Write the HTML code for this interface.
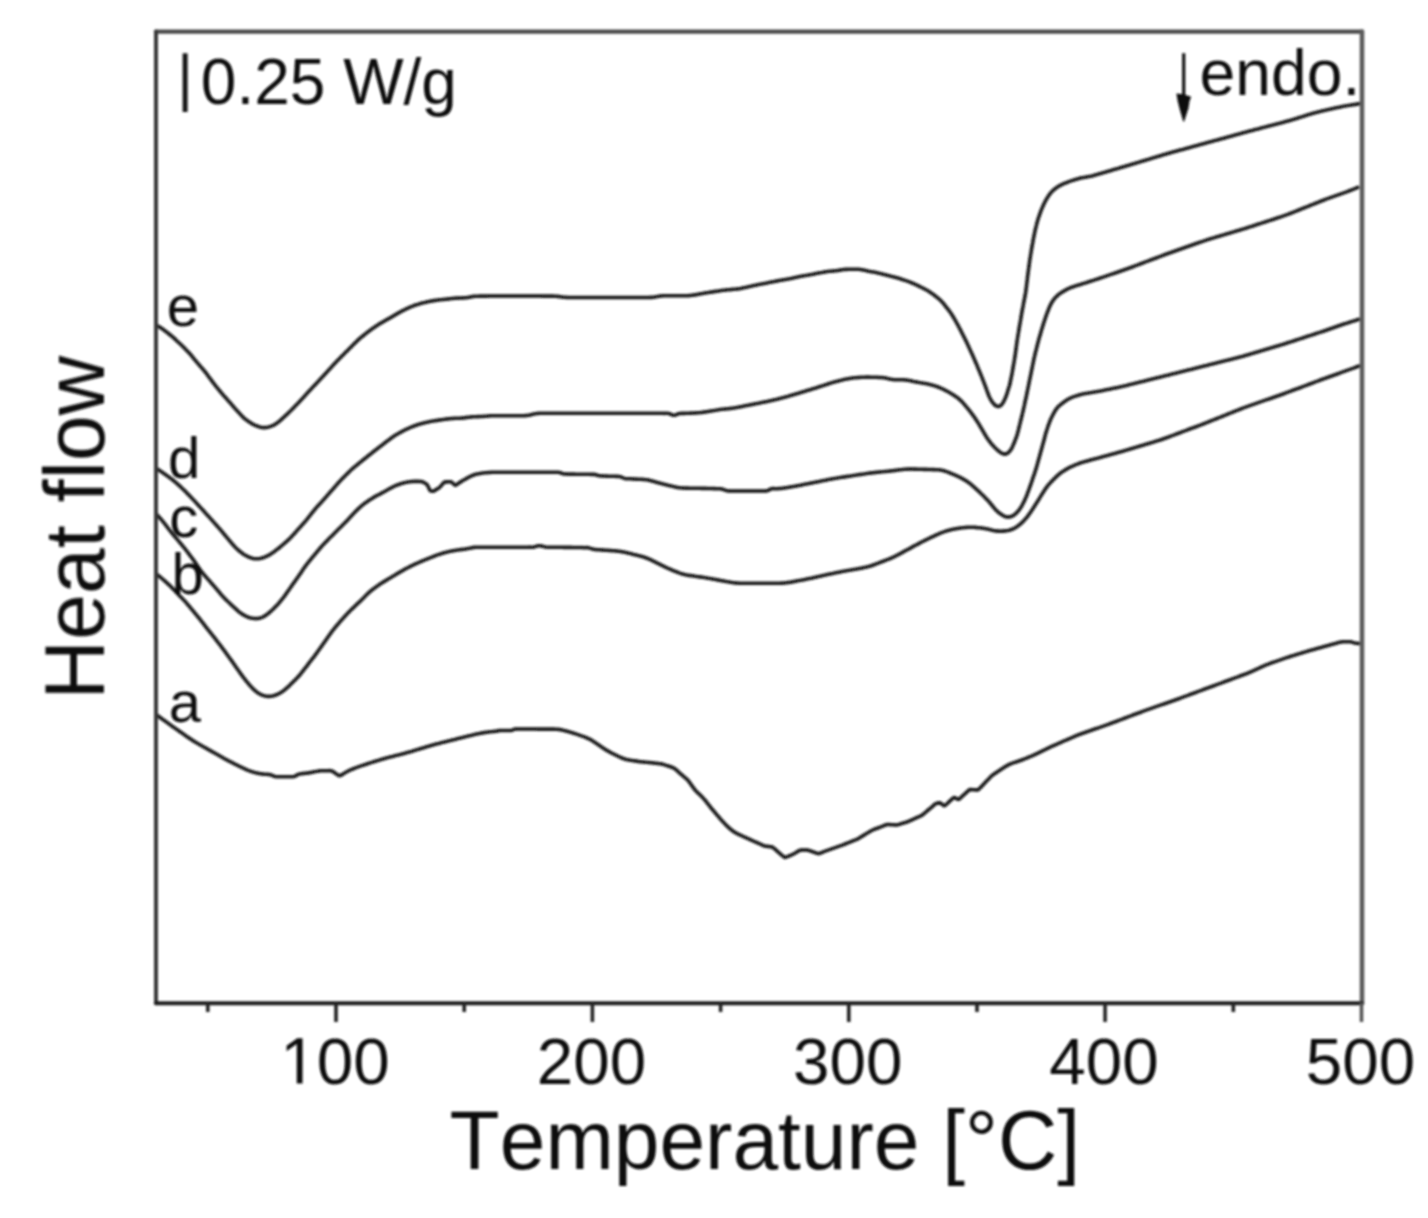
<!DOCTYPE html>
<html><head><meta charset="utf-8"><title>Heat flow chart</title>
<style>
html,body{margin:0;padding:0;background:#fff;}
body{width:1428px;height:1218px;overflow:hidden;font-family:"Liberation Sans",sans-serif;}
svg{display:block;}
text{font-kerning:none;font-variant-ligatures:none;font-feature-settings:"kern" 0,"liga" 0;}
</style></head><body>
<svg width="1428" height="1218" viewBox="0 0 1428 1218"><rect x="0" y="0" width="1428" height="1218" fill="#ffffff"/>
<defs><filter id="bl" filterUnits="userSpaceOnUse" x="0" y="0" width="1428" height="1218"><feGaussianBlur stdDeviation="0.8"/></filter><clipPath id="plot"><rect x="156" y="31" width="1206" height="972"/></clipPath></defs>
<g filter="url(#bl)">
<path transform="translate(0,0.6)" d="M156.9,324.8L158.2,325.6L159.5,326.4L160.7,327.2L161.9,328.0L163.2,328.9L164.4,329.8L165.6,330.7L166.8,331.6L168.0,332.5L169.1,333.4L170.3,334.4L171.4,335.3L172.6,336.3L173.7,337.3L174.8,338.3L175.9,339.3L177.0,340.4L178.1,341.4L179.2,342.4L180.3,343.4L181.4,344.5L182.4,345.5L183.5,346.6L184.6,347.6L185.6,348.7L186.7,349.8L187.7,350.8L188.8,351.9L189.8,353.1L190.7,354.2L191.7,355.3L192.7,356.5L193.6,357.7L194.5,358.8L195.5,360.0L196.4,361.1L197.4,362.3L198.4,363.4L199.4,364.6L200.4,365.7L201.3,366.8L202.3,367.9L203.3,369.1L204.3,370.2L205.2,371.4L206.2,372.6L207.1,373.8L207.9,375.0L208.8,376.2L209.7,377.4L210.6,378.6L211.5,379.8L212.4,381.0L213.3,382.2L214.2,383.4L215.1,384.6L216.0,385.8L217.0,386.9L217.9,388.1L218.9,389.3L219.8,390.4L220.8,391.6L221.8,392.7L222.7,393.8L223.7,395.0L224.7,396.1L225.7,397.2L226.7,398.3L227.7,399.5L228.7,400.6L229.7,401.7L230.7,402.8L231.7,404.0L232.6,405.1L233.6,406.2L234.6,407.4L235.6,408.5L236.6,409.6L237.6,410.7L238.6,411.8L239.6,412.9L240.6,414.0L241.7,415.1L242.7,416.2L243.8,417.2L245.0,418.2L246.1,419.1L247.3,420.0L248.5,420.8L249.8,421.7L251.0,422.5L252.3,423.3L253.6,424.0L254.9,424.6L256.3,425.2L257.7,425.7L259.1,426.2L260.5,426.6L262.0,426.9L263.4,427.0L264.8,427.0L266.3,426.9L267.7,426.6L269.1,426.3L270.5,425.8L271.9,425.3L273.3,424.7L274.6,424.0L275.9,423.2L277.1,422.4L278.3,421.5L279.4,420.5L280.6,419.6L281.7,418.6L282.8,417.6L283.9,416.6L285.0,415.5L286.1,414.5L287.2,413.5L288.3,412.5L289.3,411.4L290.4,410.4L291.5,409.3L292.5,408.2L293.6,407.2L294.6,406.1L295.7,405.0L296.7,403.9L297.8,402.9L298.8,401.8L299.8,400.7L300.8,399.6L301.9,398.5L302.9,397.4L303.9,396.3L304.9,395.1L305.9,394.0L306.9,392.9L307.9,391.8L308.9,390.7L310.0,389.6L311.0,388.5L312.0,387.4L313.0,386.3L314.1,385.2L315.1,384.1L316.1,383.1L317.1,382.0L318.2,380.9L319.2,379.8L320.2,378.7L321.2,377.6L322.3,376.5L323.3,375.4L324.3,374.3L325.3,373.2L326.3,372.1L327.3,371.0L328.3,369.8L329.4,368.7L330.4,367.6L331.4,366.5L332.4,365.4L333.4,364.3L334.4,363.2L335.5,362.1L336.5,361.0L337.5,359.9L338.6,358.9L339.6,357.8L340.7,356.7L341.7,355.7L342.8,354.6L343.8,353.6L344.9,352.5L346.0,351.4L347.0,350.4L348.1,349.3L349.2,348.2L350.2,347.2L351.3,346.1L352.3,345.1L353.4,344.0L354.5,342.9L355.5,341.9L356.6,340.8L357.7,339.8L358.8,338.8L359.9,337.8L361.0,336.8L362.2,335.9L363.4,334.9L364.5,334.0L365.7,333.1L366.9,332.1L368.1,331.2L369.3,330.3L370.5,329.4L371.7,328.5L372.9,327.7L374.2,326.8L375.4,326.0L376.6,325.2L377.9,324.4L379.2,323.5L380.4,322.7L381.7,322.0L383.0,321.2L384.3,320.5L385.6,319.7L386.9,319.0L388.2,318.3L389.6,317.6L390.9,316.8L392.2,316.1L393.4,315.3L394.7,314.5L396.0,313.8L397.3,313.0L398.6,312.3L399.9,311.6L401.3,310.8L402.6,310.1L403.9,309.5L405.3,308.8L406.6,308.1L408.0,307.5L409.3,306.9L410.7,306.3L412.1,305.8L413.5,305.2L414.9,304.7L416.3,304.2L417.8,303.8L419.2,303.3L420.6,302.9L422.1,302.5L423.5,302.1L425.0,301.8L426.4,301.4L427.9,301.1L429.4,300.8L430.8,300.5L432.3,300.3L433.8,300.0L435.3,299.8L436.8,299.6L438.2,299.4L439.7,299.2L441.2,299.1L442.7,298.9L444.2,298.8L445.7,298.7L447.2,298.5L448.7,298.3L450.1,298.1L451.6,297.9L453.1,297.8L454.6,297.6L456.1,297.5L457.6,297.5L459.1,297.4L460.6,297.4L462.1,297.4L463.6,297.3L465.0,297.2L466.5,297.1L467.9,296.8L469.4,296.6L470.8,296.3L472.2,296.0L473.7,295.8L475.2,295.7L476.6,295.6L478.1,295.6L479.6,295.5L481.1,295.5L482.6,295.5L484.1,295.5L485.6,295.5L487.1,295.5L488.6,295.4L490.1,295.4L491.6,295.4L493.1,295.4L494.6,295.4L496.1,295.4L497.6,295.4L499.1,295.4L500.6,295.4L502.1,295.4L503.6,295.4L505.1,295.4L506.6,295.4L508.1,295.4L509.6,295.4L511.1,295.4L512.6,295.4L514.1,295.4L515.6,295.4L517.1,295.4L518.6,295.4L520.1,295.4L521.6,295.4L523.1,295.4L524.6,295.4L526.1,295.4L527.6,295.4L529.1,295.4L530.6,295.4L532.1,295.4L533.6,295.4L535.1,295.4L536.6,295.4L538.1,295.4L539.6,295.4L541.1,295.4L542.6,295.5L544.1,295.5L545.6,295.5L547.1,295.5L548.6,295.5L550.1,295.5L551.6,295.5L553.1,295.5L554.6,295.6L556.1,295.6L557.6,295.8L559.0,296.0L560.5,296.2L561.9,296.4L563.4,296.6L564.9,296.7L566.4,296.8L567.9,296.9L569.4,296.9L570.9,296.9L572.4,296.9L573.9,296.9L575.4,296.9L576.9,296.9L578.4,296.9L579.9,296.9L581.4,296.9L582.9,296.9L584.4,296.9L585.9,296.9L587.4,296.9L588.9,296.9L590.4,296.9L591.9,296.9L593.4,296.9L594.9,296.9L596.4,296.9L597.9,296.9L599.4,296.9L600.9,296.9L602.4,296.9L603.9,296.9L605.4,296.9L606.9,296.9L608.4,296.9L609.9,296.9L611.4,296.9L612.9,296.9L614.4,296.9L615.9,296.9L617.4,296.9L618.9,296.9L620.4,296.9L621.9,296.9L623.4,296.9L624.9,296.9L626.4,296.9L627.9,296.9L629.4,296.9L630.9,296.9L632.4,296.9L633.9,296.9L635.4,296.9L636.9,296.9L638.4,296.9L639.9,296.9L641.4,296.9L642.9,296.9L644.4,296.9L645.9,296.9L647.4,296.9L648.8,296.9L650.3,296.8L651.8,296.8L653.3,296.6L654.7,296.4L656.2,296.2L657.6,295.9L659.1,295.6L660.5,295.4L662.0,295.3L663.5,295.2L665.0,295.2L666.5,295.2L668.0,295.2L669.5,295.2L671.0,295.2L672.5,295.2L674.0,295.2L675.5,295.2L677.0,295.2L678.5,295.2L680.0,295.2L681.5,295.2L683.0,295.2L684.5,295.2L686.0,295.2L687.5,295.1L688.9,295.0L690.4,294.9L691.9,294.7L693.4,294.5L694.9,294.3L696.4,294.0L697.8,293.8L699.3,293.5L700.8,293.2L702.3,293.0L703.7,292.7L705.2,292.4L706.7,292.2L708.2,292.0L709.7,291.7L711.1,291.5L712.6,291.3L714.1,291.0L715.6,290.8L717.1,290.6L718.6,290.4L720.0,290.2L721.5,289.9L723.0,289.7L724.5,289.6L726.0,289.4L727.5,289.2L729.0,289.1L730.5,289.0L732.0,288.8L733.5,288.7L734.9,288.6L736.4,288.4L737.9,288.3L739.4,288.1L740.9,287.8L742.4,287.5L743.8,287.2L745.3,286.9L746.7,286.6L748.2,286.2L749.7,285.9L751.1,285.6L752.6,285.2L754.1,284.9L755.5,284.6L757.0,284.3L758.5,284.0L759.9,283.7L761.4,283.5L762.9,283.2L764.4,282.9L765.8,282.6L767.3,282.3L768.8,282.0L770.2,281.7L771.7,281.4L773.2,281.1L774.7,280.8L776.1,280.5L777.6,280.3L779.1,280.0L780.5,279.7L782.0,279.5L783.5,279.2L785.0,279.0L786.5,278.7L787.9,278.5L789.4,278.2L790.9,277.9L792.3,277.6L793.8,277.2L795.3,276.9L796.7,276.6L798.2,276.2L799.7,276.0L801.1,275.7L802.6,275.4L804.1,275.2L805.6,274.9L807.1,274.7L808.5,274.4L810.0,274.2L811.5,273.9L812.9,273.6L814.4,273.3L815.9,273.0L817.4,272.7L818.8,272.4L820.3,272.1L821.8,271.9L823.2,271.6L824.7,271.3L826.2,271.1L827.7,270.9L829.2,270.7L830.7,270.6L832.2,270.5L833.6,270.4L835.1,270.2L836.6,270.1L838.0,269.8L839.5,269.6L840.9,269.3L842.4,269.1L843.8,268.9L845.3,268.8L846.8,268.8L848.3,268.7L849.8,268.7L851.3,268.7L852.8,268.7L854.3,268.7L855.8,268.7L857.3,268.7L858.8,268.7L860.2,268.9L861.7,269.1L863.1,269.3L864.6,269.7L866.0,270.0L867.4,270.4L868.9,270.7L870.3,271.0L871.8,271.2L873.3,271.4L874.7,271.7L876.2,272.0L877.7,272.3L879.1,272.7L880.6,273.0L882.0,273.4L883.5,273.7L884.9,274.1L886.4,274.5L887.9,274.8L889.3,275.2L890.8,275.6L892.2,275.9L893.7,276.3L895.1,276.7L896.6,277.1L898.0,277.5L899.4,277.9L900.9,278.4L902.3,278.9L903.7,279.3L905.1,279.8L906.5,280.3L908.0,280.8L909.4,281.3L910.8,281.9L912.2,282.4L913.5,283.0L914.9,283.6L916.3,284.2L917.6,284.9L919.0,285.5L920.3,286.2L921.7,286.9L923.0,287.6L924.3,288.2L925.6,288.9L927.0,289.7L928.2,290.4L929.5,291.2L930.7,292.1L932.0,292.9L933.2,293.8L934.4,294.7L935.6,295.6L936.8,296.5L937.9,297.5L939.1,298.4L940.2,299.4L941.2,300.5L942.2,301.5L943.2,302.7L944.2,303.8L945.1,305.0L946.0,306.2L947.0,307.4L947.9,308.5L948.8,309.7L949.7,310.9L950.6,312.2L951.4,313.4L952.2,314.6L953.0,315.9L953.8,317.2L954.5,318.5L955.3,319.8L956.0,321.1L956.7,322.4L957.4,323.7L958.2,325.0L958.9,326.4L959.6,327.7L960.3,329.0L961.0,330.4L961.6,331.7L962.3,333.0L963.0,334.4L963.7,335.7L964.3,337.1L965.0,338.4L965.7,339.7L966.3,341.1L967.0,342.4L967.6,343.8L968.2,345.2L968.9,346.5L969.5,347.9L970.1,349.2L970.7,350.6L971.4,352.0L972.0,353.3L972.6,354.7L973.2,356.1L973.8,357.5L974.4,358.8L975.0,360.2L975.6,361.6L976.2,363.0L976.8,364.3L977.4,365.7L977.9,367.1L978.5,368.5L979.1,369.9L979.7,371.3L980.2,372.6L980.8,374.0L981.4,375.4L981.9,376.8L982.5,378.2L983.0,379.6L983.6,381.0L984.1,382.4L984.6,383.8L985.2,385.2L985.7,386.6L986.2,388.0L986.7,389.4L987.2,390.8L987.8,392.3L988.3,393.7L988.8,395.1L989.4,396.4L990.1,397.8L990.8,399.1L991.6,400.4L992.4,401.6L993.3,402.8L994.3,403.9L995.4,404.8L996.6,405.5L997.8,405.9L999.0,405.8L1000.3,405.2L1001.4,404.3L1002.3,403.2L1003.1,402.0L1003.8,400.7L1004.4,399.4L1005.1,398.0L1005.7,396.6L1006.2,395.2L1006.7,393.8L1007.2,392.4L1007.6,391.0L1008.0,389.5L1008.5,388.1L1008.9,386.7L1009.4,385.2L1009.8,383.8L1010.1,382.3L1010.4,380.8L1010.7,379.4L1011.0,377.9L1011.3,376.4L1011.6,375.0L1011.9,373.5L1012.2,372.0L1012.4,370.6L1012.7,369.1L1013.0,367.6L1013.2,366.1L1013.5,364.6L1013.7,363.2L1014.0,361.7L1014.2,360.2L1014.5,358.7L1014.7,357.2L1015.0,355.8L1015.2,354.3L1015.4,352.8L1015.6,351.3L1015.8,349.8L1016.0,348.3L1016.2,346.9L1016.4,345.4L1016.6,343.9L1016.8,342.4L1017.0,340.9L1017.2,339.4L1017.5,337.9L1017.7,336.5L1017.9,335.0L1018.2,333.5L1018.4,332.0L1018.7,330.5L1018.9,329.1L1019.2,327.6L1019.4,326.1L1019.7,324.6L1019.9,323.1L1020.2,321.7L1020.4,320.2L1020.7,318.7L1020.9,317.2L1021.2,315.8L1021.4,314.3L1021.7,312.8L1021.9,311.3L1022.2,309.8L1022.5,308.4L1022.8,306.9L1023.1,305.4L1023.3,304.0L1023.6,302.5L1023.9,301.0L1024.2,299.5L1024.5,298.1L1024.8,296.6L1025.1,295.1L1025.3,293.6L1025.6,292.2L1025.8,290.7L1026.0,289.2L1026.2,287.7L1026.4,286.2L1026.6,284.7L1026.7,283.2L1026.9,281.8L1027.1,280.3L1027.3,278.8L1027.4,277.3L1027.6,275.8L1027.8,274.3L1028.0,272.8L1028.2,271.3L1028.4,269.8L1028.6,268.4L1028.8,266.9L1029.0,265.4L1029.2,263.9L1029.4,262.4L1029.6,260.9L1029.8,259.4L1030.0,258.0L1030.3,256.5L1030.5,255.0L1030.7,253.5L1031.0,252.0L1031.2,250.6L1031.5,249.1L1031.7,247.6L1032.0,246.1L1032.2,244.6L1032.5,243.2L1032.8,241.7L1033.0,240.2L1033.3,238.7L1033.6,237.3L1033.9,235.8L1034.2,234.3L1034.5,232.9L1034.8,231.4L1035.1,229.9L1035.5,228.5L1035.8,227.0L1036.2,225.5L1036.5,224.1L1036.9,222.6L1037.3,221.2L1037.7,219.8L1038.1,218.3L1038.6,216.9L1039.1,215.5L1039.6,214.1L1040.1,212.6L1040.6,211.2L1041.1,209.8L1041.7,208.5L1042.3,207.1L1042.9,205.7L1043.5,204.3L1044.1,203.0L1044.8,201.6L1045.5,200.3L1046.2,199.0L1047.0,197.7L1047.8,196.4L1048.6,195.2L1049.4,194.0L1050.3,192.8L1051.3,191.6L1052.3,190.6L1053.4,189.6L1054.5,188.6L1055.7,187.7L1056.9,186.8L1058.1,186.0L1059.4,185.2L1060.7,184.5L1062.0,183.9L1063.4,183.2L1064.8,182.7L1066.2,182.1L1067.6,181.6L1069.0,181.0L1070.4,180.5L1071.8,180.0L1073.2,179.6L1074.7,179.1L1076.1,178.7L1077.5,178.3L1079.0,177.9L1080.4,177.5L1081.9,177.2L1083.4,177.0L1084.8,176.7L1086.3,176.5L1087.8,176.2L1089.3,175.9L1090.7,175.6L1092.2,175.3L1093.6,174.9L1095.1,174.5L1096.5,174.1L1097.9,173.7L1099.4,173.2L1100.8,172.8L1102.3,172.4L1103.7,172.0L1105.1,171.6L1106.6,171.1L1108.0,170.7L1109.5,170.3L1110.9,169.9L1112.3,169.4L1113.8,169.0L1115.2,168.6L1116.7,168.2L1118.1,167.8L1119.5,167.3L1121.0,166.9L1122.4,166.5L1123.9,166.1L1125.3,165.6L1126.7,165.2L1128.2,164.8L1129.6,164.4L1131.0,163.9L1132.5,163.5L1133.9,163.1L1135.4,162.6L1136.8,162.2L1138.2,161.8L1139.7,161.3L1141.1,160.9L1142.5,160.5L1144.0,160.1L1145.4,159.6L1146.8,159.2L1148.3,158.8L1149.7,158.3L1151.2,157.9L1152.6,157.5L1154.0,157.0L1155.5,156.6L1156.9,156.2L1158.3,155.7L1159.8,155.3L1161.2,154.9L1162.6,154.4L1164.1,154.0L1165.5,153.6L1167.0,153.2L1168.4,152.7L1169.8,152.3L1171.3,151.9L1172.7,151.5L1174.2,151.1L1175.6,150.7L1177.1,150.3L1178.5,149.9L1180.0,149.5L1181.4,149.1L1182.9,148.8L1184.3,148.4L1185.8,148.0L1187.2,147.6L1188.7,147.2L1190.1,146.8L1191.5,146.4L1193.0,146.0L1194.4,145.6L1195.9,145.2L1197.3,144.8L1198.8,144.4L1200.2,144.0L1201.7,143.6L1203.1,143.2L1204.6,142.8L1206.0,142.4L1207.5,142.0L1208.9,141.6L1210.4,141.2L1211.8,140.8L1213.3,140.4L1214.7,140.0L1216.1,139.7L1217.6,139.3L1219.0,138.9L1220.5,138.5L1221.9,138.1L1223.4,137.7L1224.8,137.3L1226.3,136.9L1227.7,136.5L1229.2,136.1L1230.6,135.7L1232.1,135.3L1233.5,134.9L1234.9,134.5L1236.4,134.1L1237.8,133.7L1239.3,133.3L1240.7,132.9L1242.2,132.5L1243.6,132.1L1245.1,131.7L1246.5,131.3L1248.0,130.9L1249.4,130.5L1250.9,130.2L1252.3,129.8L1253.8,129.4L1255.2,129.0L1256.7,128.6L1258.1,128.3L1259.6,127.9L1261.0,127.5L1262.5,127.1L1263.9,126.7L1265.4,126.4L1266.8,126.0L1268.3,125.6L1269.7,125.2L1271.2,124.8L1272.6,124.5L1274.1,124.1L1275.5,123.7L1277.0,123.3L1278.4,122.9L1279.9,122.6L1281.3,122.2L1282.8,121.8L1284.2,121.4L1285.7,121.0L1287.1,120.6L1288.6,120.2L1290.0,119.8L1291.5,119.4L1292.9,119.0L1294.3,118.5L1295.8,118.1L1297.2,117.6L1298.6,117.2L1300.1,116.7L1301.5,116.3L1302.9,115.8L1304.4,115.4L1305.8,114.9L1307.2,114.5L1308.6,114.0L1310.1,113.6L1311.5,113.2L1313.0,112.7L1314.4,112.3L1315.8,112.0L1317.3,111.6L1318.8,111.2L1320.2,110.9L1321.7,110.5L1323.1,110.1L1324.6,109.8L1326.0,109.5L1327.5,109.1L1329.0,108.8L1330.4,108.5L1331.9,108.2L1333.4,107.8L1334.8,107.5L1336.3,107.2L1337.8,106.9L1339.2,106.6L1340.7,106.3L1342.2,106.0L1343.6,105.7L1345.1,105.4L1346.6,105.2L1348.1,104.9L1349.6,104.7L1351.0,104.5L1352.5,104.2L1354.0,104.0L1355.5,103.8L1357.0,103.5L1358.4,103.3L1359.9,103.0L1360.9,102.8" fill="none" stroke="#141414" stroke-width="3.6" stroke-linejoin="round" stroke-linecap="butt" clip-path="url(#plot)"/>
<path transform="translate(0,0.6)" d="M156.3,467.7L157.5,468.5L158.8,469.4L160.0,470.2L161.3,471.1L162.5,471.9L163.7,472.8L165.0,473.6L166.2,474.5L167.4,475.4L168.6,476.2L169.8,477.1L171.1,478.0L172.2,478.9L173.4,479.9L174.5,480.8L175.7,481.8L176.8,482.8L177.9,483.8L179.0,484.8L180.1,485.8L181.2,486.8L182.3,487.9L183.4,488.9L184.5,490.0L185.5,491.0L186.6,492.1L187.6,493.2L188.7,494.2L189.7,495.3L190.8,496.4L191.8,497.5L192.8,498.6L193.9,499.7L194.9,500.8L195.9,501.9L196.9,503.0L197.9,504.1L198.9,505.2L199.9,506.3L201.0,507.4L202.0,508.5L203.0,509.6L204.0,510.7L205.0,511.9L206.0,513.0L207.0,514.1L208.0,515.2L209.0,516.3L210.0,517.4L211.0,518.5L212.0,519.6L213.0,520.8L214.0,521.9L215.0,523.0L216.0,524.1L217.0,525.2L218.0,526.4L219.0,527.5L220.0,528.6L220.9,529.8L221.9,530.9L222.9,532.1L223.8,533.2L224.8,534.4L225.7,535.5L226.7,536.7L227.7,537.8L228.6,539.0L229.6,540.1L230.5,541.3L231.5,542.4L232.5,543.6L233.5,544.7L234.5,545.8L235.5,546.9L236.6,547.9L237.7,549.0L238.8,549.9L240.0,550.9L241.1,551.8L242.3,552.7L243.5,553.6L244.8,554.4L246.1,555.1L247.4,555.8L248.7,556.4L250.1,557.0L251.5,557.4L253.0,557.8L254.4,558.1L255.8,558.2L257.3,558.2L258.8,558.1L260.2,557.9L261.6,557.5L263.1,557.1L264.4,556.6L265.8,556.0L267.2,555.4L268.5,554.7L269.8,554.0L271.1,553.2L272.3,552.4L273.6,551.5L274.8,550.6L275.9,549.7L277.1,548.8L278.3,547.9L279.5,546.9L280.6,546.0L281.8,545.0L282.9,544.1L284.1,543.1L285.2,542.1L286.4,541.1L287.5,540.1L288.6,539.1L289.6,538.1L290.7,537.0L291.7,535.9L292.7,534.8L293.7,533.7L294.7,532.6L295.7,531.5L296.7,530.3L297.7,529.2L298.7,528.1L299.7,527.0L300.7,525.9L301.7,524.7L302.7,523.6L303.7,522.5L304.7,521.4L305.7,520.3L306.7,519.1L307.6,517.9L308.5,516.8L309.5,515.6L310.4,514.4L311.3,513.2L312.2,512.0L313.2,510.9L314.1,509.7L315.1,508.6L316.0,507.4L317.0,506.3L318.0,505.2L319.0,504.1L320.1,503.0L321.1,501.9L322.1,500.8L323.1,499.6L324.1,498.5L325.1,497.4L326.1,496.3L327.1,495.1L328.0,494.0L329.0,492.9L330.0,491.7L331.0,490.6L332.0,489.5L333.0,488.4L334.0,487.2L335.0,486.1L335.9,485.0L336.9,483.9L337.9,482.7L338.9,481.6L340.0,480.5L341.0,479.4L342.0,478.3L343.1,477.3L344.1,476.2L345.2,475.1L346.2,474.1L347.3,473.0L348.4,472.0L349.4,470.9L350.5,469.9L351.6,468.9L352.7,467.9L353.9,466.9L355.0,465.9L356.2,465.0L357.3,464.0L358.5,463.1L359.7,462.1L360.8,461.2L362.0,460.2L363.2,459.3L364.3,458.4L365.5,457.4L366.7,456.5L367.8,455.5L369.0,454.6L370.2,453.7L371.4,452.7L372.5,451.8L373.7,450.9L374.9,449.9L376.1,449.0L377.3,448.1L378.5,447.2L379.6,446.3L380.8,445.4L382.0,444.5L383.2,443.6L384.4,442.6L385.6,441.7L386.8,440.8L388.0,439.9L389.2,439.0L390.4,438.1L391.6,437.2L392.8,436.4L394.1,435.5L395.3,434.7L396.6,433.9L397.9,433.2L399.2,432.4L400.5,431.7L401.8,431.0L403.1,430.3L404.5,429.6L405.8,428.9L407.2,428.3L408.5,427.7L409.9,427.1L411.3,426.5L412.7,425.9L414.1,425.4L415.5,424.9L416.9,424.4L418.3,423.9L419.8,423.5L421.2,423.1L422.6,422.7L424.1,422.3L425.6,421.9L427.0,421.6L428.5,421.3L430.0,421.0L431.4,420.7L432.9,420.5L434.4,420.2L435.9,420.0L437.3,419.8L438.8,419.5L440.3,419.3L441.8,419.1L443.3,418.9L444.8,418.7L446.3,418.5L447.7,418.3L449.2,418.1L450.7,418.0L452.2,417.9L453.7,417.8L455.2,417.7L456.7,417.7L458.2,417.6L459.7,417.6L461.2,417.5L462.6,417.4L464.1,417.3L465.6,417.0L467.1,416.8L468.5,416.6L470.0,416.5L471.5,416.3L473.0,416.2L474.5,416.2L476.0,416.1L477.5,416.0L479.0,416.0L480.5,415.9L482.0,415.9L483.5,415.8L485.0,415.7L486.5,415.6L488.0,415.4L489.5,415.3L490.9,415.2L492.4,415.2L493.9,415.1L495.4,415.1L496.9,415.1L498.4,415.1L499.9,415.1L501.4,415.1L502.9,415.1L504.4,415.1L505.9,415.1L507.4,415.1L508.9,415.1L510.4,415.1L511.9,415.1L513.4,415.1L514.9,415.1L516.4,415.1L517.9,415.1L519.4,415.1L520.9,415.1L522.4,415.1L523.9,415.1L525.4,415.0L526.9,414.9L528.3,414.7L529.8,414.5L531.2,414.1L532.6,413.7L534.0,413.4L535.4,413.1L536.9,412.9L538.3,412.8L539.8,412.7L541.3,412.7L542.8,412.7L544.3,412.7L545.8,412.7L547.3,412.7L548.8,412.7L550.3,412.7L551.8,412.7L553.3,412.7L554.8,412.7L556.3,412.7L557.8,412.7L559.3,412.7L560.8,412.7L562.3,412.7L563.8,412.7L565.3,412.7L566.8,412.7L568.3,412.7L569.8,412.7L571.3,412.7L572.8,412.7L574.3,412.7L575.8,412.7L577.3,412.7L578.8,412.7L580.3,412.7L581.8,412.7L583.3,412.7L584.8,412.7L586.3,412.7L587.8,412.7L589.3,412.7L590.8,412.7L592.3,412.7L593.8,412.7L595.3,412.7L596.8,412.7L598.3,412.7L599.8,412.7L601.3,412.7L602.8,412.7L604.3,412.7L605.8,412.7L607.3,412.7L608.8,412.7L610.3,412.7L611.8,412.7L613.3,412.7L614.8,412.7L616.3,412.7L617.8,412.7L619.3,412.7L620.8,412.7L622.3,412.7L623.8,412.7L625.3,412.7L626.8,412.7L628.3,412.7L629.8,412.7L631.3,412.7L632.8,412.7L634.3,412.7L635.8,412.7L637.3,412.7L638.8,412.7L640.3,412.7L641.8,412.7L643.3,412.7L644.8,412.7L646.3,412.7L647.8,412.7L649.3,412.7L650.8,412.7L652.3,412.7L653.8,412.7L655.3,412.7L656.8,412.7L658.3,412.7L659.8,412.7L661.3,412.7L662.8,412.7L664.3,412.8L665.8,412.7L667.3,412.7L668.8,412.9L670.2,413.4L671.5,414.0L672.9,414.6L674.3,414.7L675.7,414.3L677.1,413.7L678.5,413.2L679.9,412.9L681.4,412.8L682.9,412.8L684.4,412.8L685.9,412.7L687.4,412.6L688.9,412.6L690.4,412.5L691.9,412.5L693.4,412.4L694.9,412.4L696.4,412.3L697.9,412.2L699.4,412.1L700.9,411.9L702.4,411.8L703.8,411.5L705.3,411.3L706.8,411.1L708.3,410.8L709.8,410.6L711.2,410.3L712.7,410.1L714.2,409.9L715.7,409.6L717.2,409.4L718.7,409.1L720.1,408.9L721.6,408.7L723.1,408.6L724.6,408.4L726.1,408.3L727.6,408.1L729.1,408.0L730.6,407.8L732.1,407.7L733.5,407.5L735.0,407.2L736.5,407.0L738.0,406.7L739.4,406.4L740.9,406.1L742.4,405.8L743.9,405.5L745.3,405.2L746.8,404.9L748.3,404.6L749.7,404.3L751.2,404.0L752.7,403.8L754.2,403.5L755.6,403.2L757.1,402.9L758.6,402.6L760.0,402.3L761.5,402.0L763.0,401.7L764.5,401.4L765.9,401.1L767.4,400.8L768.9,400.5L770.3,400.1L771.8,399.8L773.2,399.5L774.7,399.1L776.2,398.8L777.6,398.4L779.1,398.1L780.5,397.7L782.0,397.3L783.4,397.0L784.9,396.6L786.3,396.2L787.8,395.8L789.2,395.3L790.6,394.9L792.1,394.5L793.5,394.1L795.0,393.6L796.4,393.2L797.8,392.8L799.3,392.4L800.7,391.9L802.1,391.5L803.6,391.1L805.0,390.6L806.4,390.2L807.9,389.7L809.3,389.3L810.8,388.9L812.2,388.4L813.6,388.0L815.1,387.6L816.5,387.1L817.9,386.7L819.3,386.2L820.8,385.7L822.2,385.3L823.6,384.8L825.0,384.3L826.5,383.9L827.9,383.4L829.3,382.9L830.8,382.5L832.2,382.0L833.6,381.6L835.1,381.2L836.5,380.8L838.0,380.4L839.4,380.1L840.9,379.7L842.3,379.4L843.8,379.0L845.3,378.7L846.7,378.4L848.2,378.1L849.7,377.8L851.1,377.6L852.6,377.4L854.1,377.2L855.6,377.1L857.1,377.0L858.6,376.9L860.1,376.8L861.6,376.7L863.1,376.6L864.6,376.6L866.1,376.5L867.6,376.5L869.1,376.5L870.6,376.6L872.1,376.6L873.6,376.6L875.1,376.7L876.6,376.7L878.1,376.8L879.6,376.9L881.1,376.9L882.5,377.0L884.0,377.2L885.5,377.4L886.9,377.7L888.3,378.1L889.7,378.4L891.2,378.7L892.6,378.9L894.1,379.1L895.6,379.1L897.1,379.2L898.6,379.2L900.1,379.2L901.6,379.2L903.1,379.2L904.5,379.3L906.0,379.4L907.5,379.6L909.0,379.8L910.4,380.1L911.9,380.4L913.4,380.8L914.8,381.1L916.3,381.3L917.8,381.6L919.2,381.9L920.7,382.1L922.2,382.4L923.7,382.6L925.2,382.9L926.6,383.2L928.1,383.5L929.5,383.8L931.0,384.2L932.4,384.6L933.9,385.0L935.3,385.5L936.7,385.9L938.1,386.4L939.5,387.0L940.9,387.6L942.3,388.2L943.6,388.8L944.9,389.5L946.3,390.2L947.6,390.9L948.9,391.6L950.2,392.4L951.5,393.2L952.8,393.9L954.0,394.8L955.3,395.6L956.5,396.4L957.7,397.3L958.9,398.2L960.0,399.2L961.1,400.2L962.1,401.3L963.1,402.4L964.1,403.5L965.1,404.7L966.0,405.8L967.0,407.0L967.9,408.1L968.9,409.3L969.8,410.5L970.7,411.6L971.6,412.8L972.5,414.1L973.4,415.3L974.3,416.5L975.1,417.7L975.9,419.0L976.8,420.2L977.6,421.5L978.4,422.8L979.2,424.0L979.9,425.3L980.7,426.6L981.5,427.9L982.2,429.2L983.0,430.5L983.7,431.8L984.5,433.1L985.2,434.4L986.0,435.7L986.8,436.9L987.6,438.2L988.5,439.4L989.4,440.6L990.3,441.8L991.2,443.0L992.2,444.1L993.2,445.2L994.2,446.3L995.3,447.4L996.3,448.4L997.4,449.4L998.6,450.4L999.8,451.3L1001.0,452.1L1002.2,452.9L1003.5,453.3L1004.8,453.5L1006.2,453.3L1007.4,452.7L1008.5,451.9L1009.5,450.8L1010.5,449.7L1011.3,448.5L1012.0,447.2L1012.6,445.8L1013.2,444.4L1013.8,443.1L1014.4,441.7L1014.9,440.3L1015.5,438.9L1016.0,437.5L1016.5,436.1L1017.0,434.7L1017.4,433.2L1017.8,431.8L1018.2,430.3L1018.6,428.9L1018.9,427.4L1019.3,426.0L1019.6,424.5L1020.0,423.0L1020.3,421.6L1020.7,420.1L1021.1,418.7L1021.4,417.2L1021.8,415.8L1022.1,414.3L1022.5,412.8L1022.8,411.4L1023.2,409.9L1023.5,408.5L1023.8,407.0L1024.2,405.5L1024.5,404.1L1024.8,402.6L1025.1,401.1L1025.4,399.7L1025.8,398.2L1026.1,396.7L1026.4,395.3L1026.7,393.8L1027.0,392.3L1027.3,390.9L1027.6,389.4L1027.9,387.9L1028.2,386.5L1028.5,385.0L1028.8,383.5L1029.1,382.1L1029.4,380.6L1029.7,379.1L1030.0,377.6L1030.3,376.2L1030.6,374.7L1030.9,373.2L1031.2,371.8L1031.5,370.3L1031.8,368.8L1032.1,367.4L1032.4,365.9L1032.7,364.4L1033.0,362.9L1033.3,361.5L1033.6,360.0L1033.9,358.5L1034.2,357.1L1034.6,355.6L1034.9,354.2L1035.3,352.7L1035.6,351.2L1036.0,349.8L1036.4,348.3L1036.7,346.9L1037.1,345.4L1037.5,344.0L1037.8,342.5L1038.2,341.1L1038.6,339.6L1039.0,338.2L1039.4,336.7L1039.8,335.3L1040.3,333.8L1040.7,332.4L1041.1,331.0L1041.5,329.5L1041.9,328.1L1042.4,326.7L1042.8,325.2L1043.3,323.8L1043.7,322.4L1044.2,320.9L1044.7,319.5L1045.1,318.1L1045.6,316.7L1046.1,315.3L1046.6,313.8L1047.1,312.4L1047.7,311.0L1048.2,309.6L1048.8,308.2L1049.3,306.9L1049.9,305.5L1050.6,304.1L1051.3,302.8L1052.0,301.5L1052.8,300.3L1053.7,299.1L1054.6,297.9L1055.6,296.8L1056.6,295.7L1057.7,294.7L1058.8,293.8L1060.0,292.9L1061.2,292.1L1062.5,291.3L1063.8,290.5L1065.1,289.8L1066.4,289.0L1067.7,288.3L1069.0,287.7L1070.4,287.1L1071.8,286.6L1073.2,286.1L1074.6,285.6L1076.1,285.2L1077.5,284.7L1078.9,284.3L1080.4,283.9L1081.8,283.4L1083.2,283.0L1084.7,282.5L1086.1,282.1L1087.5,281.6L1088.9,281.1L1090.4,280.7L1091.8,280.2L1093.2,279.8L1094.7,279.3L1096.1,278.8L1097.5,278.4L1098.9,277.9L1100.4,277.4L1101.8,277.0L1103.2,276.5L1104.6,276.0L1106.0,275.5L1107.5,275.0L1108.9,274.5L1110.3,274.0L1111.7,273.5L1113.1,273.1L1114.5,272.6L1116.0,272.1L1117.4,271.6L1118.8,271.1L1120.2,270.6L1121.6,270.1L1123.1,269.6L1124.5,269.1L1125.9,268.6L1127.3,268.1L1128.7,267.6L1130.1,267.1L1131.5,266.6L1132.9,266.1L1134.3,265.6L1135.7,265.0L1137.2,264.5L1138.6,264.0L1140.0,263.4L1141.4,262.9L1142.8,262.4L1144.2,261.8L1145.6,261.3L1147.0,260.8L1148.4,260.3L1149.8,259.7L1151.2,259.2L1152.6,258.7L1154.0,258.1L1155.4,257.6L1156.8,257.1L1158.2,256.6L1159.6,256.0L1161.0,255.5L1162.4,255.0L1163.8,254.4L1165.2,253.9L1166.6,253.4L1168.0,252.9L1169.4,252.4L1170.9,251.9L1172.3,251.4L1173.7,250.9L1175.1,250.4L1176.5,249.9L1177.9,249.4L1179.3,248.9L1180.8,248.4L1182.2,247.9L1183.6,247.4L1185.0,246.9L1186.4,246.4L1187.8,245.9L1189.3,245.4L1190.7,244.9L1192.1,244.4L1193.5,243.9L1194.9,243.4L1196.3,242.9L1197.8,242.4L1199.2,241.9L1200.6,241.5L1202.0,241.0L1203.4,240.5L1204.8,240.0L1206.3,239.5L1207.7,239.0L1209.1,238.6L1210.5,238.1L1212.0,237.7L1213.4,237.3L1214.9,236.8L1216.3,236.4L1217.7,236.0L1219.2,235.6L1220.6,235.1L1222.0,234.7L1223.5,234.3L1224.9,233.8L1226.4,233.4L1227.8,233.0L1229.2,232.6L1230.7,232.1L1232.1,231.7L1233.5,231.3L1235.0,230.8L1236.4,230.4L1237.9,230.0L1239.3,229.6L1240.7,229.1L1242.2,228.7L1243.6,228.3L1245.0,227.8L1246.5,227.4L1247.9,226.9L1249.3,226.5L1250.8,226.0L1252.2,225.6L1253.6,225.1L1255.0,224.6L1256.5,224.2L1257.9,223.7L1259.3,223.2L1260.7,222.8L1262.2,222.3L1263.6,221.8L1265.0,221.4L1266.5,220.9L1267.9,220.5L1269.3,220.0L1270.7,219.5L1272.2,219.1L1273.6,218.6L1275.0,218.1L1276.4,217.7L1277.9,217.2L1279.3,216.7L1280.7,216.3L1282.1,215.8L1283.6,215.3L1285.0,214.8L1286.4,214.3L1287.8,213.8L1289.2,213.2L1290.6,212.7L1292.0,212.1L1293.4,211.6L1294.8,211.0L1296.2,210.5L1297.5,209.9L1298.9,209.4L1300.3,208.8L1301.7,208.2L1303.1,207.7L1304.5,207.1L1305.9,206.6L1307.3,206.0L1308.7,205.5L1310.1,204.9L1311.5,204.3L1312.9,203.8L1314.3,203.2L1315.6,202.7L1317.0,202.1L1318.4,201.6L1319.8,201.0L1321.2,200.4L1322.6,199.9L1324.0,199.4L1325.4,198.8L1326.8,198.3L1328.2,197.8L1329.7,197.3L1331.1,196.8L1332.5,196.3L1333.9,195.8L1335.3,195.3L1336.7,194.8L1338.2,194.3L1339.6,193.8L1341.0,193.3L1342.4,192.8L1343.8,192.3L1345.2,191.8L1346.6,191.3L1348.0,190.7L1349.4,190.2L1350.8,189.6L1352.2,189.1L1353.6,188.5L1355.0,188.0L1356.4,187.4L1357.8,186.8L1359.2,186.3" fill="none" stroke="#141414" stroke-width="3.6" stroke-linejoin="round" stroke-linecap="butt" clip-path="url(#plot)"/>
<path transform="translate(0,0.6)" d="M156.3,513.3L157.3,514.4L158.3,515.5L159.3,516.7L160.3,517.8L161.3,518.9L162.2,520.1L163.2,521.2L164.1,522.4L165.0,523.6L166.0,524.8L166.9,526.0L167.8,527.2L168.7,528.4L169.6,529.6L170.5,530.7L171.4,531.9L172.4,533.1L173.3,534.2L174.3,535.4L175.3,536.5L176.2,537.6L177.2,538.8L178.2,539.9L179.1,541.1L180.1,542.2L181.1,543.4L182.0,544.6L183.0,545.7L183.9,546.9L184.9,548.0L185.8,549.2L186.7,550.4L187.6,551.6L188.5,552.8L189.4,554.0L190.3,555.2L191.2,556.4L192.1,557.6L193.0,558.8L193.9,560.0L194.7,561.2L195.6,562.5L196.4,563.7L197.3,565.0L198.1,566.2L199.0,567.4L199.8,568.7L200.7,569.9L201.6,571.1L202.5,572.3L203.4,573.4L204.4,574.6L205.4,575.7L206.4,576.8L207.4,578.0L208.4,579.1L209.4,580.2L210.4,581.3L211.3,582.5L212.3,583.6L213.3,584.7L214.3,585.8L215.3,587.0L216.3,588.1L217.2,589.3L218.2,590.4L219.2,591.6L220.1,592.7L221.1,593.9L222.1,595.0L223.1,596.1L224.1,597.2L225.1,598.3L226.2,599.3L227.3,600.4L228.4,601.4L229.5,602.4L230.5,603.5L231.6,604.5L232.7,605.5L233.8,606.6L234.9,607.6L236.0,608.6L237.1,609.6L238.2,610.6L239.4,611.5L240.6,612.4L241.8,613.3L243.1,614.1L244.4,614.8L245.7,615.5L247.1,616.1L248.4,616.6L249.9,617.1L251.3,617.5L252.7,617.7L254.2,617.9L255.6,618.0L257.1,617.9L258.5,617.8L260.0,617.5L261.4,617.0L262.7,616.5L264.0,615.8L265.3,615.1L266.5,614.2L267.7,613.3L268.8,612.4L270.0,611.4L271.1,610.4L272.2,609.4L273.3,608.4L274.3,607.3L275.4,606.3L276.4,605.2L277.5,604.1L278.5,603.0L279.4,601.8L280.4,600.7L281.3,599.5L282.3,598.3L283.2,597.2L284.1,596.0L285.0,594.8L285.9,593.6L286.7,592.3L287.6,591.1L288.5,589.9L289.3,588.7L290.2,587.4L291.0,586.2L291.9,585.0L292.7,583.7L293.6,582.5L294.5,581.3L295.4,580.1L296.2,578.9L297.1,577.6L298.0,576.4L298.8,575.2L299.7,573.9L300.5,572.7L301.4,571.5L302.2,570.2L303.0,569.0L303.9,567.7L304.7,566.5L305.6,565.3L306.5,564.1L307.4,562.9L308.3,561.7L309.3,560.5L310.2,559.4L311.2,558.2L312.1,557.1L313.1,555.9L314.1,554.8L315.0,553.6L316.0,552.5L316.9,551.3L317.9,550.2L318.9,549.0L319.8,547.9L320.8,546.7L321.8,545.6L322.8,544.5L323.8,543.4L324.9,542.3L325.9,541.2L327.0,540.2L328.0,539.1L329.1,538.0L330.1,537.0L331.2,535.9L332.3,534.8L333.3,533.8L334.4,532.7L335.4,531.7L336.5,530.6L337.6,529.5L338.6,528.5L339.7,527.4L340.7,526.4L341.8,525.3L342.9,524.2L343.9,523.2L345.0,522.1L346.0,521.0L347.1,520.0L348.1,518.9L349.1,517.8L350.1,516.7L351.1,515.6L352.1,514.5L353.2,513.4L354.2,512.3L355.2,511.2L356.3,510.1L357.4,509.1L358.5,508.1L359.6,507.0L360.7,506.0L361.8,505.1L363.0,504.1L364.1,503.2L365.3,502.3L366.6,501.4L367.8,500.6L369.0,499.7L370.3,498.9L371.6,498.1L372.8,497.3L374.1,496.5L375.4,495.8L376.7,495.1L378.0,494.4L379.4,493.7L380.7,493.0L382.0,492.3L383.4,491.6L384.7,490.9L386.0,490.1L387.3,489.4L388.6,488.6L389.9,487.9L391.2,487.2L392.5,486.5L393.9,485.8L395.2,485.2L396.6,484.6L398.0,484.1L399.4,483.6L400.8,483.1L402.3,482.7L403.7,482.3L405.2,482.0L406.6,481.6L408.1,481.4L409.6,481.2L411.1,481.0L412.5,480.9L414.0,480.8L415.5,480.8L417.0,480.8L418.5,480.7L420.0,480.9L421.5,481.0L422.9,481.4L424.2,482.1L425.5,482.9L426.8,483.7L427.6,484.9L428.3,486.2L428.9,487.6L429.5,488.9L430.3,490.1L431.7,490.5L433.1,490.6L434.4,490.1L435.7,489.3L437.0,488.5L438.3,487.7L439.5,486.9L440.5,485.8L441.5,484.7L442.5,483.5L443.4,482.4L444.5,481.5L446.0,481.3L447.5,481.3L449.0,481.2L450.5,481.2L451.8,481.6L452.8,482.6L453.9,483.7L455.0,484.6L456.1,484.3L457.4,483.5L458.6,482.6L459.8,481.8L461.1,481.0L462.4,480.2L463.7,479.4L465.0,478.7L466.3,478.0L467.6,477.2L468.9,476.5L470.3,475.9L471.6,475.2L473.0,474.7L474.4,474.2L475.8,473.7L477.2,473.4L478.7,473.1L480.2,472.8L481.7,472.6L483.1,472.4L484.6,472.2L486.1,472.1L487.6,472.0L489.1,471.9L490.6,471.8L492.1,471.7L493.6,471.7L495.1,471.7L496.6,471.7L498.1,471.7L499.6,471.7L501.1,471.7L502.6,471.7L504.1,471.7L505.6,471.7L507.1,471.7L508.6,471.7L510.1,471.7L511.6,471.7L513.1,471.7L514.6,471.7L516.1,471.7L517.6,471.7L519.1,471.7L520.6,471.7L522.1,471.7L523.6,471.7L525.1,471.7L526.6,471.7L528.1,471.7L529.6,471.7L531.1,471.7L532.6,471.7L534.1,471.7L535.6,471.7L537.1,471.7L538.6,471.7L540.1,471.7L541.6,471.7L543.1,471.7L544.6,471.7L546.1,471.7L547.6,471.7L549.1,471.7L550.6,471.7L552.1,471.7L553.6,471.7L555.1,471.7L556.6,471.7L558.1,471.7L559.6,471.9L561.0,472.4L562.4,472.9L563.8,473.3L565.3,473.4L566.8,473.4L568.3,473.5L569.8,473.5L571.3,473.5L572.8,473.5L574.3,473.5L575.8,473.6L577.3,473.6L578.8,473.6L580.3,473.6L581.8,473.6L583.3,473.7L584.8,473.7L586.3,473.7L587.8,473.7L589.3,473.7L590.8,473.8L592.3,473.8L593.8,473.8L595.2,474.0L596.7,474.4L598.1,474.9L599.5,475.2L601.0,475.3L602.5,475.4L604.0,475.4L605.5,475.5L607.0,475.5L608.5,475.6L610.0,475.6L611.5,475.6L613.0,475.7L614.5,475.7L616.0,475.8L617.5,475.8L619.0,475.9L620.4,476.1L621.8,476.7L623.2,477.3L624.5,477.8L626.0,478.1L627.5,478.1L629.0,478.2L630.5,478.2L632.0,478.3L633.5,478.4L635.0,478.5L636.5,478.5L638.0,478.6L639.5,478.7L641.0,478.7L642.5,478.8L644.0,478.9L645.5,479.1L646.9,479.2L648.4,479.5L649.9,479.8L651.3,480.2L652.7,480.6L654.2,481.0L655.6,481.4L657.1,481.8L658.5,482.2L660.0,482.6L661.4,483.0L662.9,483.4L664.3,483.7L665.8,484.1L667.2,484.5L668.7,484.8L670.1,485.2L671.6,485.5L673.1,485.9L674.5,486.2L676.0,486.6L677.4,486.8L678.9,487.1L680.4,487.2L681.9,487.4L683.4,487.4L684.9,487.5L686.4,487.5L687.9,487.5L689.4,487.6L690.9,487.6L692.4,487.6L693.9,487.6L695.4,487.7L696.9,487.7L698.4,487.7L699.9,487.7L701.4,487.8L702.9,487.8L704.4,487.8L705.9,487.8L707.4,487.9L708.9,487.9L710.4,487.9L711.9,487.9L713.4,488.0L714.9,488.0L716.4,488.1L717.8,488.2L719.4,488.1L720.8,488.2L722.3,488.6L723.7,489.0L725.1,489.6L726.5,490.0L728.0,490.3L729.5,490.4L731.0,490.4L732.5,490.4L734.0,490.4L735.5,490.4L737.0,490.4L738.5,490.4L740.0,490.4L741.5,490.4L743.0,490.4L744.5,490.4L746.0,490.4L747.5,490.4L749.0,490.4L750.5,490.4L752.0,490.4L753.5,490.4L755.0,490.4L756.5,490.4L758.0,490.4L759.5,490.4L761.0,490.4L762.5,490.4L764.0,490.4L765.5,490.4L766.9,490.3L768.3,489.8L769.6,489.0L770.9,488.3L772.3,488.0L773.8,488.0L775.3,488.1L776.8,488.1L778.3,488.0L779.8,487.9L781.2,487.8L782.7,487.6L784.2,487.4L785.7,487.2L787.2,487.0L788.6,486.7L790.1,486.5L791.6,486.2L793.1,486.0L794.6,485.7L796.0,485.5L797.5,485.2L799.0,484.9L800.5,484.6L801.9,484.3L803.4,484.0L804.9,483.7L806.3,483.4L807.8,483.1L809.3,482.8L810.7,482.5L812.2,482.3L813.7,482.0L815.2,481.7L816.6,481.4L818.1,481.1L819.6,480.8L821.0,480.5L822.5,480.2L824.0,479.9L825.5,479.6L826.9,479.3L828.4,479.0L829.9,478.7L831.3,478.5L832.8,478.2L834.3,477.9L835.8,477.7L837.3,477.4L838.7,477.2L840.2,476.9L841.7,476.7L843.2,476.5L844.7,476.3L846.1,476.0L847.6,475.8L849.1,475.6L850.6,475.4L852.1,475.1L853.6,474.9L855.0,474.7L856.5,474.5L858.0,474.2L859.5,474.0L861.0,473.8L862.5,473.6L863.9,473.4L865.4,473.1L866.9,472.9L868.4,472.7L869.9,472.5L871.4,472.3L872.9,472.2L874.4,472.0L875.8,471.8L877.3,471.7L878.8,471.5L880.3,471.4L881.8,471.2L883.3,471.1L884.8,470.9L886.3,470.8L887.8,470.6L889.3,470.5L890.8,470.3L892.3,470.1L893.7,470.0L895.2,469.8L896.7,469.6L898.2,469.4L899.7,469.2L901.2,469.1L902.7,468.9L904.2,468.7L905.7,468.6L907.2,468.5L908.7,468.5L910.1,468.4L911.6,468.4L913.1,468.5L914.6,468.5L916.1,468.5L917.6,468.6L919.1,468.6L920.6,468.7L922.1,468.7L923.6,468.8L925.1,468.8L926.6,468.8L928.1,468.9L929.6,468.9L931.1,468.9L932.6,469.0L934.1,469.0L935.6,469.1L937.1,469.1L938.6,469.2L940.1,469.4L941.6,469.6L943.0,469.9L944.4,470.3L945.8,470.8L947.2,471.3L948.6,471.8L950.0,472.4L951.4,473.0L952.8,473.5L954.2,474.1L955.6,474.7L956.9,475.3L958.3,475.9L959.6,476.6L961.0,477.3L962.3,478.0L963.6,478.7L964.9,479.5L966.2,480.2L967.4,481.1L968.6,481.9L969.8,482.8L971.0,483.8L972.1,484.7L973.2,485.7L974.4,486.7L975.5,487.7L976.6,488.7L977.7,489.8L978.8,490.8L979.9,491.8L980.9,492.9L982.0,493.9L983.1,495.0L984.1,496.0L985.2,497.1L986.2,498.2L987.3,499.2L988.3,500.3L989.3,501.5L990.3,502.6L991.2,503.8L992.1,504.9L993.1,506.1L994.0,507.3L995.0,508.4L996.0,509.5L997.0,510.5L998.2,511.5L999.3,512.4L1000.5,513.3L1001.8,514.1L1003.0,514.9L1004.3,515.6L1005.7,516.1L1007.0,516.4L1008.4,516.4L1009.8,516.3L1011.2,515.9L1012.5,515.4L1013.7,514.6L1014.9,513.8L1016.0,512.8L1017.1,511.8L1018.0,510.6L1019.0,509.5L1019.9,508.3L1020.7,507.0L1021.5,505.8L1022.2,504.5L1022.9,503.1L1023.6,501.8L1024.3,500.5L1024.9,499.1L1025.5,497.7L1026.1,496.4L1026.7,495.0L1027.2,493.6L1027.7,492.2L1028.2,490.8L1028.8,489.4L1029.3,487.9L1029.8,486.5L1030.3,485.1L1030.8,483.7L1031.3,482.3L1031.8,480.9L1032.3,479.5L1032.7,478.0L1033.2,476.6L1033.7,475.2L1034.2,473.8L1034.7,472.4L1035.1,470.9L1035.6,469.5L1036.1,468.1L1036.5,466.6L1036.9,465.2L1037.3,463.8L1037.7,462.3L1038.1,460.9L1038.5,459.4L1038.9,458.0L1039.3,456.5L1039.7,455.1L1040.1,453.6L1040.5,452.2L1040.9,450.7L1041.3,449.3L1041.7,447.9L1042.1,446.4L1042.5,445.0L1042.9,443.5L1043.3,442.1L1043.7,440.6L1044.1,439.2L1044.5,437.7L1044.8,436.3L1045.2,434.8L1045.6,433.4L1046.0,431.9L1046.5,430.5L1046.9,429.1L1047.4,427.6L1047.8,426.2L1048.3,424.8L1048.9,423.4L1049.4,422.0L1049.9,420.6L1050.5,419.2L1051.1,417.8L1051.7,416.5L1052.4,415.2L1053.1,413.8L1053.8,412.5L1054.5,411.2L1055.3,409.9L1056.1,408.7L1057.0,407.5L1057.9,406.4L1059.0,405.4L1060.1,404.4L1061.2,403.5L1062.4,402.6L1063.6,401.7L1064.8,400.8L1066.1,399.9L1067.3,399.1L1068.6,398.4L1069.9,397.7L1071.2,397.1L1072.6,396.5L1074.0,396.0L1075.4,395.5L1076.9,395.1L1078.3,394.6L1079.7,394.2L1081.2,393.8L1082.6,393.5L1084.1,393.2L1085.6,392.9L1087.1,392.6L1088.5,392.4L1090.0,392.1L1091.5,391.9L1093.0,391.6L1094.4,391.4L1095.9,391.2L1097.4,390.9L1098.9,390.6L1100.4,390.4L1101.8,390.1L1103.3,389.8L1104.8,389.5L1106.2,389.2L1107.7,388.9L1109.2,388.6L1110.7,388.3L1112.1,388.0L1113.6,387.7L1115.1,387.4L1116.5,387.1L1118.0,386.8L1119.5,386.5L1120.9,386.2L1122.4,385.8L1123.9,385.5L1125.3,385.1L1126.8,384.8L1128.2,384.4L1129.7,384.0L1131.1,383.7L1132.6,383.3L1134.0,383.0L1135.5,382.6L1137.0,382.2L1138.4,381.9L1139.9,381.5L1141.3,381.1L1142.8,380.8L1144.2,380.4L1145.7,380.1L1147.1,379.7L1148.6,379.3L1150.1,379.0L1151.5,378.6L1153.0,378.2L1154.4,377.9L1155.9,377.5L1157.3,377.2L1158.8,376.8L1160.2,376.4L1161.7,376.1L1163.2,375.7L1164.6,375.3L1166.1,375.0L1167.5,374.6L1169.0,374.3L1170.4,373.9L1171.9,373.5L1173.3,373.2L1174.8,372.8L1176.2,372.4L1177.7,372.1L1179.2,371.7L1180.6,371.3L1182.1,371.0L1183.5,370.6L1185.0,370.2L1186.4,369.9L1187.9,369.5L1189.3,369.1L1190.8,368.8L1192.3,368.4L1193.7,368.1L1195.2,367.7L1196.6,367.3L1198.1,367.0L1199.5,366.6L1201.0,366.2L1202.4,365.9L1203.9,365.5L1205.3,365.1L1206.8,364.8L1208.3,364.4L1209.7,364.0L1211.2,363.7L1212.6,363.3L1214.1,362.9L1215.5,362.6L1217.0,362.2L1218.4,361.8L1219.9,361.5L1221.4,361.1L1222.8,360.7L1224.3,360.4L1225.7,360.0L1227.2,359.7L1228.6,359.3L1230.1,358.9L1231.5,358.6L1233.0,358.2L1234.4,357.8L1235.9,357.5L1237.4,357.1L1238.8,356.7L1240.3,356.3L1241.7,356.0L1243.2,355.6L1244.6,355.1L1246.0,354.7L1247.5,354.3L1248.9,353.9L1250.4,353.5L1251.8,353.0L1253.2,352.6L1254.7,352.2L1256.1,351.7L1257.5,351.3L1259.0,350.9L1260.4,350.5L1261.9,350.0L1263.3,349.6L1264.7,349.2L1266.2,348.7L1267.6,348.3L1269.0,347.9L1270.5,347.5L1271.9,347.0L1273.4,346.6L1274.8,346.2L1276.2,345.7L1277.7,345.3L1279.1,344.9L1280.5,344.5L1282.0,344.0L1283.4,343.6L1284.8,343.1L1286.3,342.7L1287.7,342.2L1289.1,341.7L1290.5,341.3L1292.0,340.8L1293.4,340.4L1294.8,339.9L1296.3,339.4L1297.7,339.0L1299.1,338.5L1300.5,338.0L1302.0,337.6L1303.4,337.1L1304.8,336.6L1306.2,336.2L1307.7,335.7L1309.1,335.2L1310.5,334.8L1311.9,334.3L1313.4,333.9L1314.8,333.4L1316.2,332.9L1317.6,332.5L1319.1,332.0L1320.5,331.5L1321.9,331.1L1323.3,330.6L1324.8,330.1L1326.2,329.6L1327.6,329.1L1329.0,328.6L1330.4,328.1L1331.9,327.6L1333.3,327.2L1334.7,326.7L1336.1,326.2L1337.5,325.7L1338.9,325.2L1340.4,324.7L1341.8,324.2L1343.2,323.7L1344.6,323.2L1346.0,322.8L1347.5,322.3L1348.9,321.9L1350.3,321.4L1351.8,321.0L1353.2,320.5L1354.6,320.1L1356.1,319.6L1357.5,319.2L1358.9,318.7L1359.9,318.4" fill="none" stroke="#141414" stroke-width="3.6" stroke-linejoin="round" stroke-linecap="butt" clip-path="url(#plot)"/>
<path transform="translate(0,0.6)" d="M156.3,573.3L157.5,574.2L158.6,575.2L159.8,576.1L160.9,577.1L162.1,578.1L163.2,579.0L164.4,580.0L165.5,581.0L166.6,582.0L167.7,583.0L168.8,584.0L169.9,585.0L171.0,586.1L172.0,587.2L173.1,588.2L174.1,589.3L175.1,590.4L176.1,591.5L177.2,592.6L178.2,593.7L179.2,594.8L180.3,595.9L181.3,596.9L182.4,598.0L183.4,599.1L184.5,600.2L185.5,601.3L186.5,602.4L187.4,603.6L188.4,604.7L189.4,605.8L190.3,607.0L191.3,608.2L192.3,609.3L193.2,610.5L194.2,611.6L195.1,612.8L196.1,613.9L197.0,615.1L198.0,616.2L198.9,617.4L199.9,618.6L200.8,619.8L201.7,620.9L202.6,622.1L203.6,623.3L204.5,624.5L205.4,625.7L206.3,626.9L207.2,628.0L208.2,629.2L209.1,630.4L210.0,631.6L211.0,632.7L211.9,633.9L212.8,635.1L213.8,636.3L214.7,637.4L215.6,638.6L216.5,639.8L217.4,641.0L218.4,642.2L219.3,643.4L220.2,644.6L221.1,645.8L222.0,647.0L222.9,648.2L223.8,649.4L224.7,650.6L225.6,651.8L226.4,653.0L227.3,654.2L228.2,655.4L229.1,656.7L230.0,657.9L230.8,659.1L231.7,660.3L232.6,661.5L233.4,662.8L234.3,664.0L235.1,665.2L236.0,666.5L236.9,667.7L237.7,668.9L238.6,670.1L239.5,671.4L240.3,672.6L241.2,673.8L242.1,675.0L243.0,676.2L243.9,677.4L244.8,678.6L245.7,679.8L246.7,681.0L247.6,682.1L248.6,683.3L249.5,684.4L250.5,685.5L251.6,686.6L252.6,687.7L253.7,688.7L254.8,689.7L255.9,690.7L257.0,691.6L258.3,692.5L259.5,693.2L260.8,693.9L262.2,694.5L263.6,695.0L265.0,695.4L266.4,695.7L267.8,695.8L269.3,695.8L270.8,695.7L272.2,695.5L273.6,695.2L275.0,694.7L276.4,694.2L277.8,693.6L279.1,692.9L280.4,692.2L281.6,691.4L282.9,690.6L284.0,689.7L285.2,688.7L286.3,687.7L287.4,686.7L288.6,685.7L289.7,684.7L290.7,683.7L291.8,682.6L292.9,681.6L294.0,680.5L295.0,679.5L296.1,678.4L297.1,677.3L298.1,676.2L299.1,675.1L300.1,674.0L301.0,672.8L302.0,671.6L302.9,670.4L303.8,669.3L304.7,668.1L305.6,666.9L306.6,665.7L307.5,664.5L308.4,663.3L309.3,662.1L310.2,660.9L311.1,659.8L312.0,658.6L313.0,657.4L313.9,656.2L314.8,655.0L315.7,653.8L316.6,652.6L317.4,651.4L318.3,650.1L319.2,648.9L320.1,647.7L320.9,646.5L321.8,645.3L322.7,644.0L323.5,642.8L324.4,641.6L325.3,640.4L326.1,639.1L327.0,637.9L327.8,636.7L328.7,635.4L329.6,634.2L330.4,633.0L331.3,631.8L332.2,630.6L333.1,629.4L334.0,628.2L335.0,627.0L335.9,625.9L336.9,624.7L337.9,623.6L338.9,622.5L339.8,621.3L340.8,620.2L341.8,619.1L342.8,618.0L343.8,616.9L344.8,615.7L345.9,614.6L346.9,613.5L347.9,612.4L348.9,611.4L350.0,610.3L351.1,609.2L352.1,608.2L353.2,607.2L354.3,606.2L355.4,605.1L356.5,604.1L357.6,603.1L358.7,602.1L359.8,601.0L360.9,600.0L361.9,598.9L363.0,597.8L364.0,596.8L365.1,595.7L366.1,594.7L367.2,593.6L368.3,592.6L369.4,591.6L370.5,590.6L371.7,589.6L372.9,588.7L374.1,587.8L375.3,586.9L376.5,586.0L377.7,585.1L378.9,584.3L380.1,583.4L381.4,582.6L382.7,581.8L384.0,581.0L385.2,580.3L386.5,579.5L387.8,578.7L389.1,577.9L390.4,577.2L391.7,576.4L393.0,575.6L394.3,574.9L395.5,574.1L396.8,573.3L398.1,572.6L399.4,571.8L400.7,571.1L402.0,570.3L403.3,569.6L404.6,568.8L405.9,568.1L407.2,567.4L408.6,566.7L409.9,566.0L411.2,565.3L412.6,564.7L413.9,564.0L415.3,563.4L416.7,562.8L418.0,562.2L419.4,561.6L420.8,561.0L422.2,560.4L423.6,559.8L424.9,559.3L426.3,558.7L427.7,558.1L429.1,557.6L430.5,557.0L431.9,556.5L433.3,555.9L434.7,555.4L436.1,554.8L437.5,554.3L438.9,553.8L440.4,553.4L441.8,552.9L443.2,552.5L444.7,552.1L446.1,551.7L447.6,551.3L449.0,551.0L450.5,550.7L451.9,550.3L453.4,550.1L454.9,549.8L456.4,549.6L457.9,549.4L459.3,549.2L460.8,549.0L462.3,548.8L463.8,548.6L465.3,548.5L466.8,548.2L468.2,547.9L469.7,547.6L471.2,547.3L472.6,547.0L474.1,546.8L475.6,546.7L477.1,546.6L478.6,546.6L480.1,546.6L481.6,546.6L483.1,546.6L484.6,546.6L486.1,546.6L487.6,546.6L489.1,546.6L490.6,546.6L492.1,546.6L493.6,546.6L495.1,546.6L496.6,546.6L498.1,546.6L499.6,546.6L501.1,546.6L502.6,546.6L504.1,546.6L505.6,546.6L507.1,546.6L508.6,546.6L510.1,546.6L511.6,546.6L513.1,546.6L514.6,546.6L516.1,546.6L517.6,546.6L519.1,546.6L520.6,546.6L522.1,546.6L523.6,546.6L525.1,546.6L526.6,546.6L528.1,546.6L529.6,546.5L531.1,546.6L532.6,546.6L534.1,546.4L535.5,546.0L536.9,545.5L538.4,545.2L539.8,545.1L541.3,545.4L542.8,545.7L544.2,546.1L545.7,546.4L547.2,546.6L548.7,546.6L550.2,546.6L551.7,546.6L553.2,546.7L554.7,546.7L556.2,546.7L557.7,546.7L559.2,546.7L560.7,546.7L562.2,546.7L563.7,546.8L565.2,546.8L566.7,546.8L568.2,546.8L569.7,546.8L571.2,546.8L572.7,546.9L574.2,546.9L575.7,546.9L577.2,546.9L578.7,546.9L580.2,546.9L581.7,546.9L583.1,547.0L584.6,547.1L586.2,547.0L587.6,547.0L589.1,547.3L590.5,547.8L592.0,548.2L593.4,548.7L594.8,548.9L596.3,549.0L597.8,549.1L599.3,549.2L600.8,549.3L602.3,549.4L603.8,549.5L605.3,549.6L606.8,549.7L608.3,549.8L609.8,549.9L611.3,550.0L612.8,550.1L614.3,550.2L615.8,550.3L617.3,550.5L618.8,550.6L620.3,550.8L621.7,551.1L623.2,551.3L624.7,551.6L626.1,552.0L627.6,552.3L629.0,552.7L630.5,553.0L632.0,553.4L633.4,553.8L634.9,554.1L636.3,554.5L637.8,554.9L639.2,555.2L640.7,555.6L642.1,556.0L643.6,556.4L645.0,556.9L646.4,557.4L647.8,557.9L649.1,558.5L650.5,559.1L651.9,559.8L653.2,560.5L654.5,561.1L655.9,561.8L657.2,562.5L658.6,563.1L659.9,563.8L661.2,564.5L662.6,565.1L663.9,565.8L665.3,566.5L666.6,567.1L668.0,567.7L669.4,568.3L670.8,568.9L672.1,569.5L673.5,570.1L674.9,570.6L676.3,571.2L677.7,571.7L679.1,572.3L680.5,572.8L681.9,573.2L683.3,573.7L684.8,574.0L686.3,574.3L687.7,574.6L689.2,574.8L690.7,575.0L692.2,575.2L693.7,575.4L695.1,575.7L696.6,575.9L698.1,576.1L699.6,576.3L701.1,576.5L702.6,576.7L704.1,576.9L705.5,577.2L707.0,577.4L708.5,577.7L710.0,577.9L711.4,578.2L712.9,578.5L714.4,578.7L715.9,579.0L717.3,579.3L718.8,579.5L720.3,579.8L721.8,580.1L723.3,580.3L724.7,580.6L726.2,580.9L727.7,581.1L729.2,581.4L730.6,581.7L732.1,581.9L733.6,582.1L735.1,582.3L736.6,582.4L738.1,582.5L739.6,582.6L741.1,582.6L742.5,582.6L744.0,582.6L745.5,582.6L747.0,582.6L748.5,582.6L750.0,582.6L751.5,582.6L753.0,582.6L754.5,582.6L756.0,582.6L757.5,582.6L759.0,582.6L760.5,582.6L762.0,582.6L763.5,582.6L765.0,582.6L766.5,582.6L768.0,582.6L769.5,582.6L771.0,582.6L772.5,582.6L774.0,582.6L775.5,582.6L777.0,582.6L778.5,582.6L780.0,582.6L781.5,582.5L783.0,582.5L784.5,582.4L786.0,582.2L787.5,582.0L789.0,581.8L790.5,581.6L791.9,581.3L793.4,581.0L794.9,580.8L796.4,580.5L797.8,580.2L799.3,579.9L800.8,579.7L802.3,579.4L803.7,579.1L805.2,578.8L806.7,578.5L808.1,578.2L809.6,577.9L811.1,577.6L812.5,577.3L814.0,576.9L815.5,576.6L816.9,576.3L818.4,576.0L819.9,575.7L821.3,575.3L822.8,575.0L824.3,574.7L825.7,574.4L827.2,574.0L828.7,573.7L830.1,573.4L831.6,573.1L833.0,572.8L834.5,572.5L836.0,572.1L837.5,571.8L838.9,571.6L840.4,571.3L841.9,571.0L843.3,570.7L844.8,570.5L846.3,570.2L847.8,569.9L849.3,569.7L850.7,569.4L852.2,569.2L853.7,568.9L855.2,568.6L856.6,568.4L858.1,568.1L859.6,567.8L861.1,567.6L862.5,567.3L864.0,567.0L865.5,566.7L866.9,566.4L868.4,566.0L869.8,565.6L871.2,565.1L872.6,564.6L874.0,564.1L875.5,563.6L876.9,563.0L878.3,562.5L879.7,562.0L881.1,561.4L882.5,560.9L883.9,560.4L885.3,559.8L886.7,559.3L888.1,558.8L889.5,558.2L890.9,557.7L892.2,557.1L893.6,556.4L894.9,555.8L896.3,555.1L897.6,554.4L898.9,553.7L900.2,553.0L901.6,552.3L902.9,551.5L904.2,550.8L905.5,550.1L906.8,549.4L908.1,548.7L909.5,548.0L910.8,547.3L912.1,546.5L913.4,545.8L914.7,545.1L916.1,544.4L917.4,543.7L918.7,543.0L920.0,542.3L921.3,541.6L922.7,540.9L924.0,540.2L925.4,539.5L926.7,538.9L928.1,538.2L929.4,537.6L930.8,536.9L932.1,536.3L933.5,535.7L934.8,535.0L936.2,534.4L937.6,533.8L938.9,533.2L940.3,532.6L941.7,532.0L943.1,531.5L944.5,531.0L945.9,530.5L947.4,530.1L948.8,529.7L950.3,529.3L951.7,528.9L953.2,528.6L954.6,528.3L956.1,528.1L957.6,527.8L959.1,527.6L960.6,527.4L962.0,527.2L963.5,527.1L965.0,526.9L966.5,526.8L968.0,526.7L969.5,526.6L971.0,526.6L972.5,526.7L974.0,526.7L975.5,526.8L977.0,527.0L978.5,527.1L980.0,527.2L981.4,527.4L982.9,527.6L984.4,527.8L985.9,528.1L987.3,528.4L988.8,528.7L990.2,529.1L991.7,529.4L993.1,529.8L994.6,530.1L996.0,530.3L997.5,530.5L999.0,530.5L1000.5,530.6L1002.0,530.5L1003.4,530.5L1004.9,530.3L1006.4,530.1L1007.9,529.9L1009.3,529.6L1010.7,529.1L1012.1,528.6L1013.5,528.1L1014.8,527.4L1016.1,526.7L1017.3,525.8L1018.5,524.9L1019.7,524.0L1020.8,523.0L1021.9,522.0L1023.0,521.0L1024.0,519.9L1025.0,518.8L1026.0,517.7L1027.0,516.5L1027.9,515.3L1028.8,514.1L1029.7,512.9L1030.5,511.7L1031.4,510.4L1032.2,509.2L1033.0,507.9L1033.8,506.7L1034.6,505.4L1035.4,504.1L1036.2,502.9L1037.0,501.6L1037.8,500.3L1038.6,499.1L1039.4,497.8L1040.2,496.5L1041.0,495.2L1041.8,494.0L1042.6,492.7L1043.4,491.4L1044.2,490.2L1045.0,488.9L1045.8,487.7L1046.7,486.5L1047.6,485.3L1048.6,484.1L1049.6,483.0L1050.6,481.9L1051.6,480.8L1052.7,479.8L1053.7,478.7L1054.8,477.6L1055.9,476.6L1056.9,475.5L1058.0,474.5L1059.2,473.6L1060.3,472.6L1061.5,471.7L1062.8,470.9L1064.0,470.1L1065.3,469.3L1066.6,468.5L1067.9,467.8L1069.2,467.1L1070.5,466.4L1071.9,465.8L1073.3,465.2L1074.6,464.6L1076.0,464.0L1077.4,463.5L1078.8,462.9L1080.2,462.4L1081.6,462.0L1083.1,461.5L1084.5,461.1L1086.0,460.7L1087.4,460.3L1088.8,459.9L1090.3,459.5L1091.7,459.1L1093.2,458.7L1094.6,458.3L1096.1,457.9L1097.5,457.6L1099.0,457.2L1100.4,456.8L1101.9,456.4L1103.3,456.0L1104.8,455.6L1106.2,455.2L1107.7,454.8L1109.1,454.4L1110.6,454.0L1112.0,453.6L1113.5,453.2L1114.9,452.8L1116.4,452.4L1117.8,452.0L1119.2,451.6L1120.7,451.2L1122.1,450.8L1123.6,450.4L1125.0,450.0L1126.4,449.5L1127.9,449.1L1129.3,448.7L1130.8,448.2L1132.2,447.8L1133.6,447.4L1135.1,447.0L1136.5,446.5L1137.9,446.1L1139.4,445.7L1140.8,445.2L1142.2,444.8L1143.7,444.4L1145.1,443.9L1146.6,443.5L1148.0,443.1L1149.4,442.6L1150.9,442.2L1152.3,441.8L1153.7,441.3L1155.2,440.9L1156.6,440.5L1158.0,440.0L1159.5,439.6L1160.9,439.1L1162.3,438.6L1163.7,438.1L1165.1,437.6L1166.5,437.1L1168.0,436.6L1169.4,436.1L1170.8,435.5L1172.2,435.0L1173.6,434.5L1175.0,434.0L1176.4,433.4L1177.8,432.9L1179.2,432.4L1180.6,431.9L1182.0,431.3L1183.4,430.8L1184.8,430.3L1186.2,429.8L1187.6,429.2L1189.0,428.7L1190.4,428.2L1191.8,427.7L1193.2,427.1L1194.6,426.6L1196.1,426.1L1197.5,425.6L1198.9,425.0L1200.3,424.5L1201.7,424.0L1203.1,423.4L1204.5,422.9L1205.9,422.3L1207.3,421.8L1208.6,421.2L1210.0,420.7L1211.4,420.1L1212.8,419.5L1214.2,419.0L1215.6,418.4L1217.0,417.9L1218.4,417.3L1219.8,416.8L1221.2,416.2L1222.6,415.6L1224.0,415.1L1225.4,414.5L1226.7,414.0L1228.1,413.4L1229.5,412.8L1230.9,412.3L1232.3,411.7L1233.7,411.2L1235.1,410.6L1236.5,410.0L1237.9,409.5L1239.3,408.9L1240.7,408.4L1242.1,407.8L1243.5,407.3L1244.9,406.8L1246.3,406.3L1247.7,405.8L1249.1,405.3L1250.5,404.8L1251.9,404.3L1253.4,403.8L1254.8,403.3L1256.2,402.8L1257.6,402.3L1259.0,401.8L1260.4,401.3L1261.9,400.8L1263.3,400.3L1264.7,399.8L1266.1,399.3L1267.5,398.8L1268.9,398.4L1270.4,397.9L1271.8,397.4L1273.2,396.9L1274.6,396.4L1276.0,395.9L1277.4,395.4L1278.9,394.9L1280.3,394.4L1281.7,393.9L1283.1,393.4L1284.5,392.9L1285.9,392.3L1287.3,391.8L1288.7,391.3L1290.1,390.8L1291.5,390.2L1292.9,389.7L1294.3,389.2L1295.7,388.7L1297.1,388.1L1298.6,387.6L1300.0,387.1L1301.4,386.6L1302.8,386.0L1304.2,385.5L1305.6,385.0L1307.0,384.5L1308.4,383.9L1309.8,383.4L1311.2,382.9L1312.6,382.4L1314.0,381.8L1315.4,381.3L1316.8,380.8L1318.2,380.3L1319.6,379.7L1321.0,379.2L1322.4,378.7L1323.8,378.2L1325.3,377.6L1326.7,377.1L1328.1,376.6L1329.5,376.1L1330.9,375.6L1332.3,375.1L1333.7,374.6L1335.1,374.1L1336.5,373.6L1337.9,373.1L1339.4,372.6L1340.8,372.0L1342.2,371.5L1343.6,371.0L1345.0,370.5L1346.4,370.0L1347.8,369.5L1349.2,369.0L1350.6,368.5L1352.1,368.0L1353.5,367.5L1354.9,367.0L1356.3,366.4L1357.7,365.9L1359.1,365.4L1360.1,365.1" fill="none" stroke="#141414" stroke-width="3.6" stroke-linejoin="round" stroke-linecap="butt" clip-path="url(#plot)"/>
<path transform="translate(0,0.6)" d="M156.7,714.3L157.9,715.2L159.1,716.1L160.3,717.0L161.5,717.9L162.7,718.8L163.9,719.7L165.1,720.5L166.4,721.4L167.6,722.3L168.8,723.2L170.0,724.0L171.2,724.9L172.5,725.8L173.7,726.6L174.9,727.5L176.1,728.4L177.4,729.2L178.6,730.1L179.8,731.0L181.1,731.8L182.3,732.7L183.5,733.5L184.7,734.4L186.0,735.3L187.2,736.1L188.4,737.0L189.7,737.8L190.9,738.7L192.2,739.5L193.4,740.3L194.7,741.1L196.0,741.9L197.3,742.6L198.6,743.4L199.9,744.1L201.2,744.9L202.5,745.6L203.8,746.4L205.1,747.1L206.4,747.8L207.7,748.6L209.0,749.3L210.3,750.0L211.6,750.7L212.9,751.5L214.3,752.2L215.6,752.9L216.9,753.7L218.2,754.4L219.5,755.2L220.8,755.9L222.1,756.7L223.4,757.4L224.7,758.2L226.0,758.9L227.3,759.6L228.6,760.3L230.0,761.0L231.3,761.6L232.6,762.3L234.0,763.0L235.3,763.7L236.7,764.3L238.0,765.0L239.4,765.7L240.7,766.3L242.1,767.0L243.4,767.6L244.8,768.2L246.1,768.9L247.5,769.5L248.9,770.0L250.3,770.6L251.7,771.0L253.1,771.5L254.6,771.9L256.0,772.2L257.5,772.6L259.0,772.8L260.4,773.1L261.9,773.3L263.4,773.5L264.9,773.6L266.4,773.7L267.9,773.8L269.4,774.0L270.8,774.2L272.2,774.8L273.5,775.4L274.9,775.9L276.4,776.1L277.9,776.1L279.4,776.1L280.9,776.1L282.4,776.1L283.9,776.1L285.4,776.1L286.9,776.1L288.4,776.1L289.9,776.1L291.4,776.1L292.9,776.1L294.3,775.9L295.6,775.3L296.9,774.5L298.2,773.8L299.6,773.4L301.1,773.2L302.6,773.0L304.1,772.8L305.6,772.7L307.1,772.5L308.6,772.3L310.0,772.0L311.5,771.8L313.0,771.5L314.5,771.2L315.9,770.9L317.4,770.7L318.9,770.4L320.4,770.2L321.9,770.2L323.4,770.1L324.9,770.1L326.4,770.1L327.9,770.1L329.4,770.0L330.9,770.1L332.2,770.5L333.5,771.3L334.7,772.1L335.9,773.0L337.1,773.9L338.3,774.7L339.6,775.2L340.8,774.8L342.1,774.0L343.4,773.2L344.7,772.4L346.0,771.6L347.2,770.9L348.6,770.2L349.9,769.6L351.3,769.0L352.7,768.4L354.1,767.9L355.5,767.3L356.9,766.8L358.3,766.3L359.7,765.8L361.1,765.3L362.6,764.8L364.0,764.3L365.4,763.9L366.8,763.4L368.3,762.9L369.7,762.5L371.1,762.0L372.5,761.5L374.0,761.1L375.4,760.6L376.8,760.2L378.3,759.8L379.7,759.3L381.1,758.9L382.6,758.5L384.0,758.1L385.5,757.6L386.9,757.2L388.4,756.9L389.8,756.5L391.3,756.1L392.7,755.8L394.2,755.4L395.6,755.0L397.1,754.7L398.5,754.3L400.0,754.0L401.4,753.6L402.9,753.2L404.3,752.8L405.8,752.4L407.2,752.0L408.7,751.6L410.1,751.2L411.6,750.8L413.0,750.3L414.4,749.9L415.9,749.5L417.3,749.0L418.7,748.6L420.2,748.2L421.6,747.7L423.1,747.3L424.5,746.9L425.9,746.4L427.4,746.0L428.8,745.6L430.2,745.1L431.7,744.7L433.1,744.3L434.6,743.9L436.0,743.5L437.5,743.1L438.9,742.8L440.4,742.4L441.8,742.0L443.3,741.7L444.7,741.3L446.2,741.0L447.6,740.6L449.1,740.2L450.6,739.9L452.0,739.5L453.5,739.1L454.9,738.8L456.4,738.4L457.8,738.0L459.3,737.7L460.7,737.3L462.2,737.0L463.7,736.6L465.1,736.2L466.6,735.9L468.0,735.5L469.5,735.1L470.9,734.8L472.4,734.4L473.8,734.1L475.3,733.7L476.8,733.4L478.2,733.1L479.7,732.8L481.2,732.5L482.7,732.3L484.1,732.0L485.6,731.8L487.1,731.6L488.6,731.4L490.1,731.2L491.6,731.1L493.1,730.9L494.6,730.8L496.0,730.7L497.5,730.3L498.9,730.0L500.4,729.9L501.9,729.9L503.4,729.9L504.9,729.9L506.4,729.9L507.9,729.9L509.4,729.9L510.9,729.9L512.3,729.6L513.6,728.9L515.0,728.5L516.5,728.4L518.0,728.4L519.5,728.4L521.0,728.4L522.5,728.4L524.0,728.4L525.5,728.4L527.0,728.4L528.5,728.4L530.0,728.4L531.5,728.4L533.0,728.4L534.5,728.4L536.0,728.4L537.5,728.5L539.0,728.5L540.5,728.5L542.0,728.5L543.5,728.5L545.0,728.5L546.5,728.5L548.0,728.5L549.5,728.5L551.0,728.5L552.5,728.5L554.0,728.5L555.5,728.6L556.9,728.6L558.4,728.8L559.9,729.0L561.4,729.2L562.8,729.6L564.3,729.9L565.7,730.3L567.2,730.7L568.6,731.1L570.0,731.5L571.5,732.0L572.9,732.4L574.3,732.8L575.8,733.3L577.2,733.8L578.6,734.3L580.0,734.8L581.4,735.3L582.9,735.8L584.3,736.3L585.7,736.8L587.0,737.4L588.4,738.0L589.7,738.6L591.0,739.3L592.3,740.1L593.6,740.9L594.8,741.8L596.1,742.6L597.3,743.4L598.5,744.3L599.8,745.1L601.0,746.0L602.2,746.8L603.5,747.7L604.7,748.5L606.0,749.3L607.3,750.1L608.6,750.8L609.9,751.5L611.2,752.2L612.6,752.9L613.9,753.6L615.3,754.2L616.6,754.9L618.0,755.6L619.3,756.2L620.7,756.8L622.0,757.4L623.4,758.0L624.8,758.4L626.2,758.8L627.7,759.2L629.2,759.4L630.6,759.7L632.1,759.9L633.6,760.1L635.1,760.3L636.6,760.5L638.1,760.8L639.5,761.0L641.0,761.1L642.5,761.3L644.0,761.4L645.5,761.6L647.0,761.7L648.5,761.9L650.0,762.0L651.5,762.2L653.0,762.3L654.5,762.5L655.9,762.6L657.4,762.8L658.9,763.0L660.4,763.1L661.9,763.4L663.3,763.8L664.7,764.3L666.2,764.8L667.6,765.2L669.0,765.7L670.4,766.2L671.9,766.7L673.2,767.2L674.5,767.9L675.7,768.8L676.8,769.8L677.9,770.8L679.0,771.8L680.1,772.9L681.2,773.8L682.4,774.8L683.6,775.8L684.7,776.7L685.9,777.7L687.0,778.7L688.0,779.8L688.9,780.9L689.8,782.1L690.7,783.4L691.5,784.6L692.4,785.8L693.3,787.0L694.2,788.2L695.1,789.4L696.1,790.5L697.1,791.6L698.2,792.6L699.4,793.6L700.4,794.6L701.5,795.7L702.5,796.8L703.5,797.9L704.5,799.0L705.5,800.1L706.4,801.3L707.3,802.5L708.3,803.7L709.2,804.9L710.1,806.0L711.0,807.2L712.0,808.4L712.9,809.5L713.9,810.7L714.9,811.8L715.8,813.0L716.8,814.1L717.8,815.3L718.8,816.4L719.7,817.5L720.7,818.7L721.7,819.8L722.8,820.9L723.8,822.0L724.8,823.1L725.8,824.1L726.9,825.2L728.0,826.2L729.1,827.2L730.2,828.2L731.3,829.2L732.5,830.1L733.7,831.0L735.0,831.8L736.3,832.5L737.6,833.2L738.9,833.9L740.3,834.5L741.6,835.1L743.0,835.7L744.4,836.4L745.7,837.0L747.1,837.6L748.5,838.2L749.8,838.8L751.2,839.5L752.6,840.1L753.9,840.7L755.3,841.3L756.7,841.9L758.1,842.5L759.4,843.1L760.8,843.7L762.2,844.4L763.5,845.0L764.9,845.5L766.4,845.7L767.9,845.8L769.4,846.0L770.9,846.1L772.3,846.5L773.5,847.3L774.6,848.3L775.8,849.2L776.9,850.2L778.0,851.2L779.2,852.2L780.3,853.2L781.4,854.2L782.6,855.2L783.7,856.1L784.9,856.8L786.2,856.5L787.6,856.0L789.0,855.4L790.4,854.8L791.8,854.3L793.1,853.6L794.4,852.9L795.7,852.1L797.0,851.3L798.3,850.5L799.6,849.8L801.0,849.4L802.5,849.4L804.0,849.4L805.5,849.4L807.0,849.4L808.4,849.6L809.8,850.1L811.3,850.6L812.7,851.1L814.1,851.6L815.5,852.1L816.9,852.6L818.3,853.0L819.7,852.8L821.1,852.2L822.5,851.7L823.9,851.1L825.3,850.5L826.7,850.0L828.1,849.5L829.5,849.0L830.9,848.5L832.4,848.0L833.8,847.5L835.2,847.0L836.6,846.5L838.0,846.0L839.4,845.5L840.9,845.0L842.3,844.5L843.7,844.0L845.0,843.4L846.4,842.9L847.8,842.3L849.2,841.8L850.6,841.2L852.0,840.7L853.4,840.1L854.8,839.5L856.2,839.0L857.6,838.4L858.9,837.6L860.1,836.8L861.4,836.1L862.7,835.3L864.0,834.5L865.3,833.7L866.6,832.9L867.8,832.2L869.1,831.4L870.4,830.6L871.7,829.9L873.0,829.2L874.4,828.6L875.8,828.1L877.2,827.6L878.6,827.1L880.1,826.6L881.5,826.0L882.8,825.5L884.2,824.9L885.6,824.4L887.0,823.9L888.5,823.9L890.0,824.0L891.5,824.1L893.0,824.2L894.5,824.3L896.0,824.4L897.5,824.3L898.9,823.8L900.3,823.4L901.8,822.9L903.2,822.5L904.6,822.1L906.1,821.6L907.5,821.1L908.9,820.6L910.2,820.0L911.6,819.4L913.0,818.8L914.4,818.1L915.7,817.5L917.1,816.9L918.5,816.3L919.8,815.7L921.2,815.1L922.5,814.3L923.6,813.3L924.8,812.4L925.9,811.4L927.0,810.4L928.2,809.4L929.3,808.5L930.5,807.5L931.6,806.5L932.8,805.6L933.9,804.6L935.0,803.6L936.3,802.9L937.7,802.5L939.2,802.3L940.5,802.5L941.7,803.4L942.9,804.3L944.0,805.1L945.1,804.9L946.2,803.9L947.3,802.9L948.4,801.8L949.5,800.8L950.6,799.8L951.7,798.8L952.8,797.8L954.0,797.0L955.2,797.2L956.4,798.0L957.6,798.7L958.8,798.8L959.9,797.9L961.0,796.8L962.1,795.8L963.2,794.8L964.3,793.8L965.4,792.7L966.5,791.7L967.6,790.7L968.7,789.7L969.9,789.0L971.3,788.9L972.8,789.1L974.3,789.2L975.8,789.3L977.3,789.4L978.5,788.9L979.6,787.8L980.6,786.7L981.7,785.7L982.7,784.6L983.7,783.5L984.8,782.4L985.8,781.3L986.8,780.2L987.9,779.1L988.9,778.1L989.9,777.0L991.0,775.9L992.1,774.8L993.3,774.0L994.5,773.1L995.8,772.3L997.0,771.5L998.3,770.7L999.5,769.8L1000.8,769.0L1002.0,768.2L1003.3,767.3L1004.5,766.5L1005.8,765.7L1007.1,765.0L1008.4,764.3L1009.7,763.6L1011.1,763.1L1012.5,762.5L1013.9,762.0L1015.3,761.6L1016.7,761.1L1018.2,760.6L1019.6,760.1L1021.0,759.6L1022.4,759.1L1023.8,758.6L1025.2,758.0L1026.6,757.5L1028.0,756.9L1029.4,756.3L1030.8,755.8L1032.1,755.2L1033.5,754.6L1034.9,754.0L1036.2,753.3L1037.6,752.7L1038.9,752.0L1040.3,751.4L1041.6,750.7L1043.0,750.0L1044.3,749.4L1045.7,748.7L1047.0,748.0L1048.4,747.4L1049.7,746.8L1051.1,746.1L1052.4,745.5L1053.8,744.9L1055.2,744.3L1056.6,743.7L1057.9,743.1L1059.3,742.5L1060.7,741.9L1062.0,741.2L1063.4,740.6L1064.8,740.0L1066.2,739.5L1067.5,738.9L1068.9,738.3L1070.3,737.7L1071.7,737.1L1073.1,736.5L1074.4,735.9L1075.8,735.3L1077.2,734.7L1078.6,734.2L1080.0,733.6L1081.4,733.1L1082.8,732.6L1084.2,732.1L1085.6,731.6L1087.0,731.1L1088.5,730.6L1089.9,730.2L1091.3,729.7L1092.7,729.2L1094.1,728.7L1095.6,728.2L1097.0,727.7L1098.4,727.3L1099.8,726.8L1101.2,726.3L1102.7,725.8L1104.1,725.3L1105.5,724.8L1106.9,724.3L1108.3,723.8L1109.7,723.2L1111.1,722.7L1112.5,722.2L1113.9,721.6L1115.3,721.1L1116.7,720.6L1118.1,720.1L1119.5,719.5L1120.9,719.0L1122.3,718.5L1123.7,717.9L1125.1,717.4L1126.5,716.9L1128.0,716.3L1129.4,715.8L1130.8,715.3L1132.2,714.7L1133.6,714.2L1135.0,713.7L1136.4,713.2L1137.8,712.6L1139.2,712.1L1140.6,711.6L1142.0,711.1L1143.4,710.5L1144.8,710.0L1146.2,709.5L1147.6,709.0L1149.1,708.5L1150.5,708.0L1151.9,707.5L1153.3,707.0L1154.7,706.5L1156.1,706.0L1157.5,705.5L1159.0,705.0L1160.4,704.5L1161.8,704.0L1163.2,703.6L1164.6,703.1L1166.0,702.6L1167.4,702.1L1168.9,701.6L1170.3,701.1L1171.7,700.6L1173.1,700.1L1174.5,699.6L1175.9,699.1L1177.3,698.6L1178.8,698.1L1180.2,697.6L1181.6,697.0L1183.0,696.5L1184.4,696.0L1185.8,695.5L1187.2,695.0L1188.6,694.5L1190.0,693.9L1191.4,693.4L1192.8,692.9L1194.2,692.4L1195.7,691.9L1197.1,691.3L1198.5,690.8L1199.9,690.3L1201.3,689.8L1202.7,689.2L1204.1,688.7L1205.5,688.2L1206.9,687.7L1208.3,687.2L1209.7,686.6L1211.1,686.1L1212.5,685.6L1213.9,685.1L1215.3,684.6L1216.8,684.0L1218.2,683.5L1219.6,683.0L1221.0,682.5L1222.4,682.0L1223.8,681.4L1225.2,680.9L1226.6,680.4L1228.0,679.9L1229.4,679.4L1230.8,678.9L1232.2,678.3L1233.6,677.8L1235.1,677.3L1236.5,676.8L1237.9,676.3L1239.3,675.7L1240.7,675.2L1242.1,674.7L1243.5,674.2L1244.9,673.7L1246.3,673.1L1247.7,672.6L1249.1,672.0L1250.5,671.4L1251.8,670.8L1253.2,670.2L1254.6,669.6L1255.9,668.9L1257.3,668.3L1258.6,667.7L1260.0,667.0L1261.4,666.4L1262.7,665.8L1264.1,665.2L1265.5,664.6L1266.9,664.0L1268.3,663.5L1269.7,663.0L1271.1,662.4L1272.5,661.9L1273.9,661.5L1275.3,661.0L1276.7,660.5L1278.1,660.0L1279.6,659.5L1281.0,659.0L1282.4,658.5L1283.8,658.0L1285.2,657.5L1286.7,657.0L1288.1,656.6L1289.5,656.1L1290.9,655.6L1292.4,655.2L1293.8,654.8L1295.2,654.3L1296.7,653.9L1298.1,653.5L1299.5,653.0L1301.0,652.6L1302.4,652.1L1303.8,651.7L1305.3,651.3L1306.7,650.8L1308.2,650.4L1309.6,650.0L1311.0,649.6L1312.5,649.2L1313.9,648.8L1315.4,648.4L1316.8,648.0L1318.3,647.6L1319.7,647.2L1321.2,646.8L1322.6,646.4L1324.1,646.0L1325.5,645.6L1326.9,645.2L1328.4,644.8L1329.8,644.4L1331.3,644.0L1332.7,643.6L1334.2,643.2L1335.6,642.8L1337.1,642.4L1338.5,642.0L1339.9,641.6L1341.4,641.3L1342.9,641.2L1344.4,641.1L1345.9,641.1L1347.4,641.1L1348.9,641.1L1350.4,641.2L1351.8,641.5L1353.2,642.0L1354.7,642.4L1356.2,642.7L1357.6,642.8L1359.1,642.9L1360.6,643.0L1361.1,643.0" fill="none" stroke="#141414" stroke-width="3.6" stroke-linejoin="round" stroke-linecap="butt" clip-path="url(#plot)"/>
<line x1="156" y1="31.6" x2="1362" y2="31.6" stroke="#4a4a4a" stroke-width="4.4" stroke-linecap="round"/>
<line x1="156" y1="31.6" x2="156" y2="1003.3" stroke="#383838" stroke-width="4.0" stroke-linecap="round"/>
<line x1="1362" y1="31.6" x2="1362" y2="1003.3" stroke="#5c5c5c" stroke-width="4.6" stroke-linecap="round"/>
<line x1="156" y1="1003.3" x2="1362" y2="1003.3" stroke="#1a1a1a" stroke-width="4.0" stroke-linecap="round"/>
<line x1="207.8" y1="1003" x2="207.8" y2="1012" stroke="#222" stroke-width="3.6"/>
<line x1="336.0" y1="1003" x2="336.0" y2="1022" stroke="#222" stroke-width="3.6"/>
<line x1="464.2" y1="1003" x2="464.2" y2="1012" stroke="#222" stroke-width="3.6"/>
<line x1="592.4" y1="1003" x2="592.4" y2="1022" stroke="#222" stroke-width="3.6"/>
<line x1="720.6" y1="1003" x2="720.6" y2="1012" stroke="#222" stroke-width="3.6"/>
<line x1="848.8" y1="1003" x2="848.8" y2="1022" stroke="#222" stroke-width="3.6"/>
<line x1="977.0" y1="1003" x2="977.0" y2="1012" stroke="#222" stroke-width="3.6"/>
<line x1="1105.1" y1="1003" x2="1105.1" y2="1022" stroke="#222" stroke-width="3.6"/>
<line x1="1233.3" y1="1003" x2="1233.3" y2="1012" stroke="#222" stroke-width="3.6"/>
<line x1="1361.5" y1="1003" x2="1361.5" y2="1022" stroke="#555" stroke-width="3.6"/>
<path transform="translate(280.27,1083.5) scale(0.03203,-0.03203)" d="M515,0 L515,1237 L197,1010 L197,1180 L530,1409 L696,1409 L696,0 Z" fill="#111"/>
<text x="316.76" y="1083.5" font-family="Liberation Sans, sans-serif" font-size="65.6" fill="#111">00</text>
<text x="591.4" y="1083.5" font-family="Liberation Sans, sans-serif" font-size="65.6" text-anchor="middle" fill="#111">200</text>
<text x="847.8" y="1083.5" font-family="Liberation Sans, sans-serif" font-size="65.6" text-anchor="middle" fill="#111">300</text>
<text x="1104.1" y="1083.5" font-family="Liberation Sans, sans-serif" font-size="65.6" text-anchor="middle" fill="#111">400</text>
<text x="1360.5" y="1083.5" font-family="Liberation Sans, sans-serif" font-size="65.6" text-anchor="middle" fill="#111">500</text>
<text x="449.6" y="1168.6" font-family="Liberation Sans, sans-serif" font-size="82.1" fill="#111" transform="translate(0,1168.6) scale(1,1.02) translate(0,-1168.6)">Temperature [°C]</text>
<text transform="translate(104.2,527.6) rotate(-90) scale(1,1.03)" font-family="Liberation Sans, sans-serif" font-size="82.5" text-anchor="middle" fill="#111">Heat flow</text>
<line x1="185.1" y1="53.3" x2="185.1" y2="112" stroke="#161616" stroke-width="5"/>
<text x="200.8" y="104" font-family="Liberation Sans, sans-serif" font-size="64" fill="#111">0.25 W/g</text>
<line x1="1183.7" y1="53.2" x2="1183.7" y2="100" stroke="#111" stroke-width="3.2"/>
<path d="M1176.4,93.6 L1183.6,94.2 L1191.2,96.8 L1189.6,101 L1188.4,108.5 L1184.2,121.6 L1183.2,121.6 L1179.6,109 L1177.6,101 Z" fill="#111"/>
<text x="1199.4" y="95.4" font-family="Liberation Sans, sans-serif" font-size="64.3" fill="#111">endo.</text>
<text x="166.8" y="325.8" font-family="Liberation Sans, sans-serif" font-size="58" fill="#111">e</text>
<text x="168.1" y="478.2" font-family="Liberation Sans, sans-serif" font-size="58" fill="#111">d</text>
<text x="169.3" y="537.1" font-family="Liberation Sans, sans-serif" font-size="58" fill="#111">c</text>
<text x="171.5" y="594.4" font-family="Liberation Sans, sans-serif" font-size="58" fill="#111">b</text>
<text x="168.8" y="722.1" font-family="Liberation Sans, sans-serif" font-size="58" fill="#111">a</text>
</g></svg>
</body></html>
